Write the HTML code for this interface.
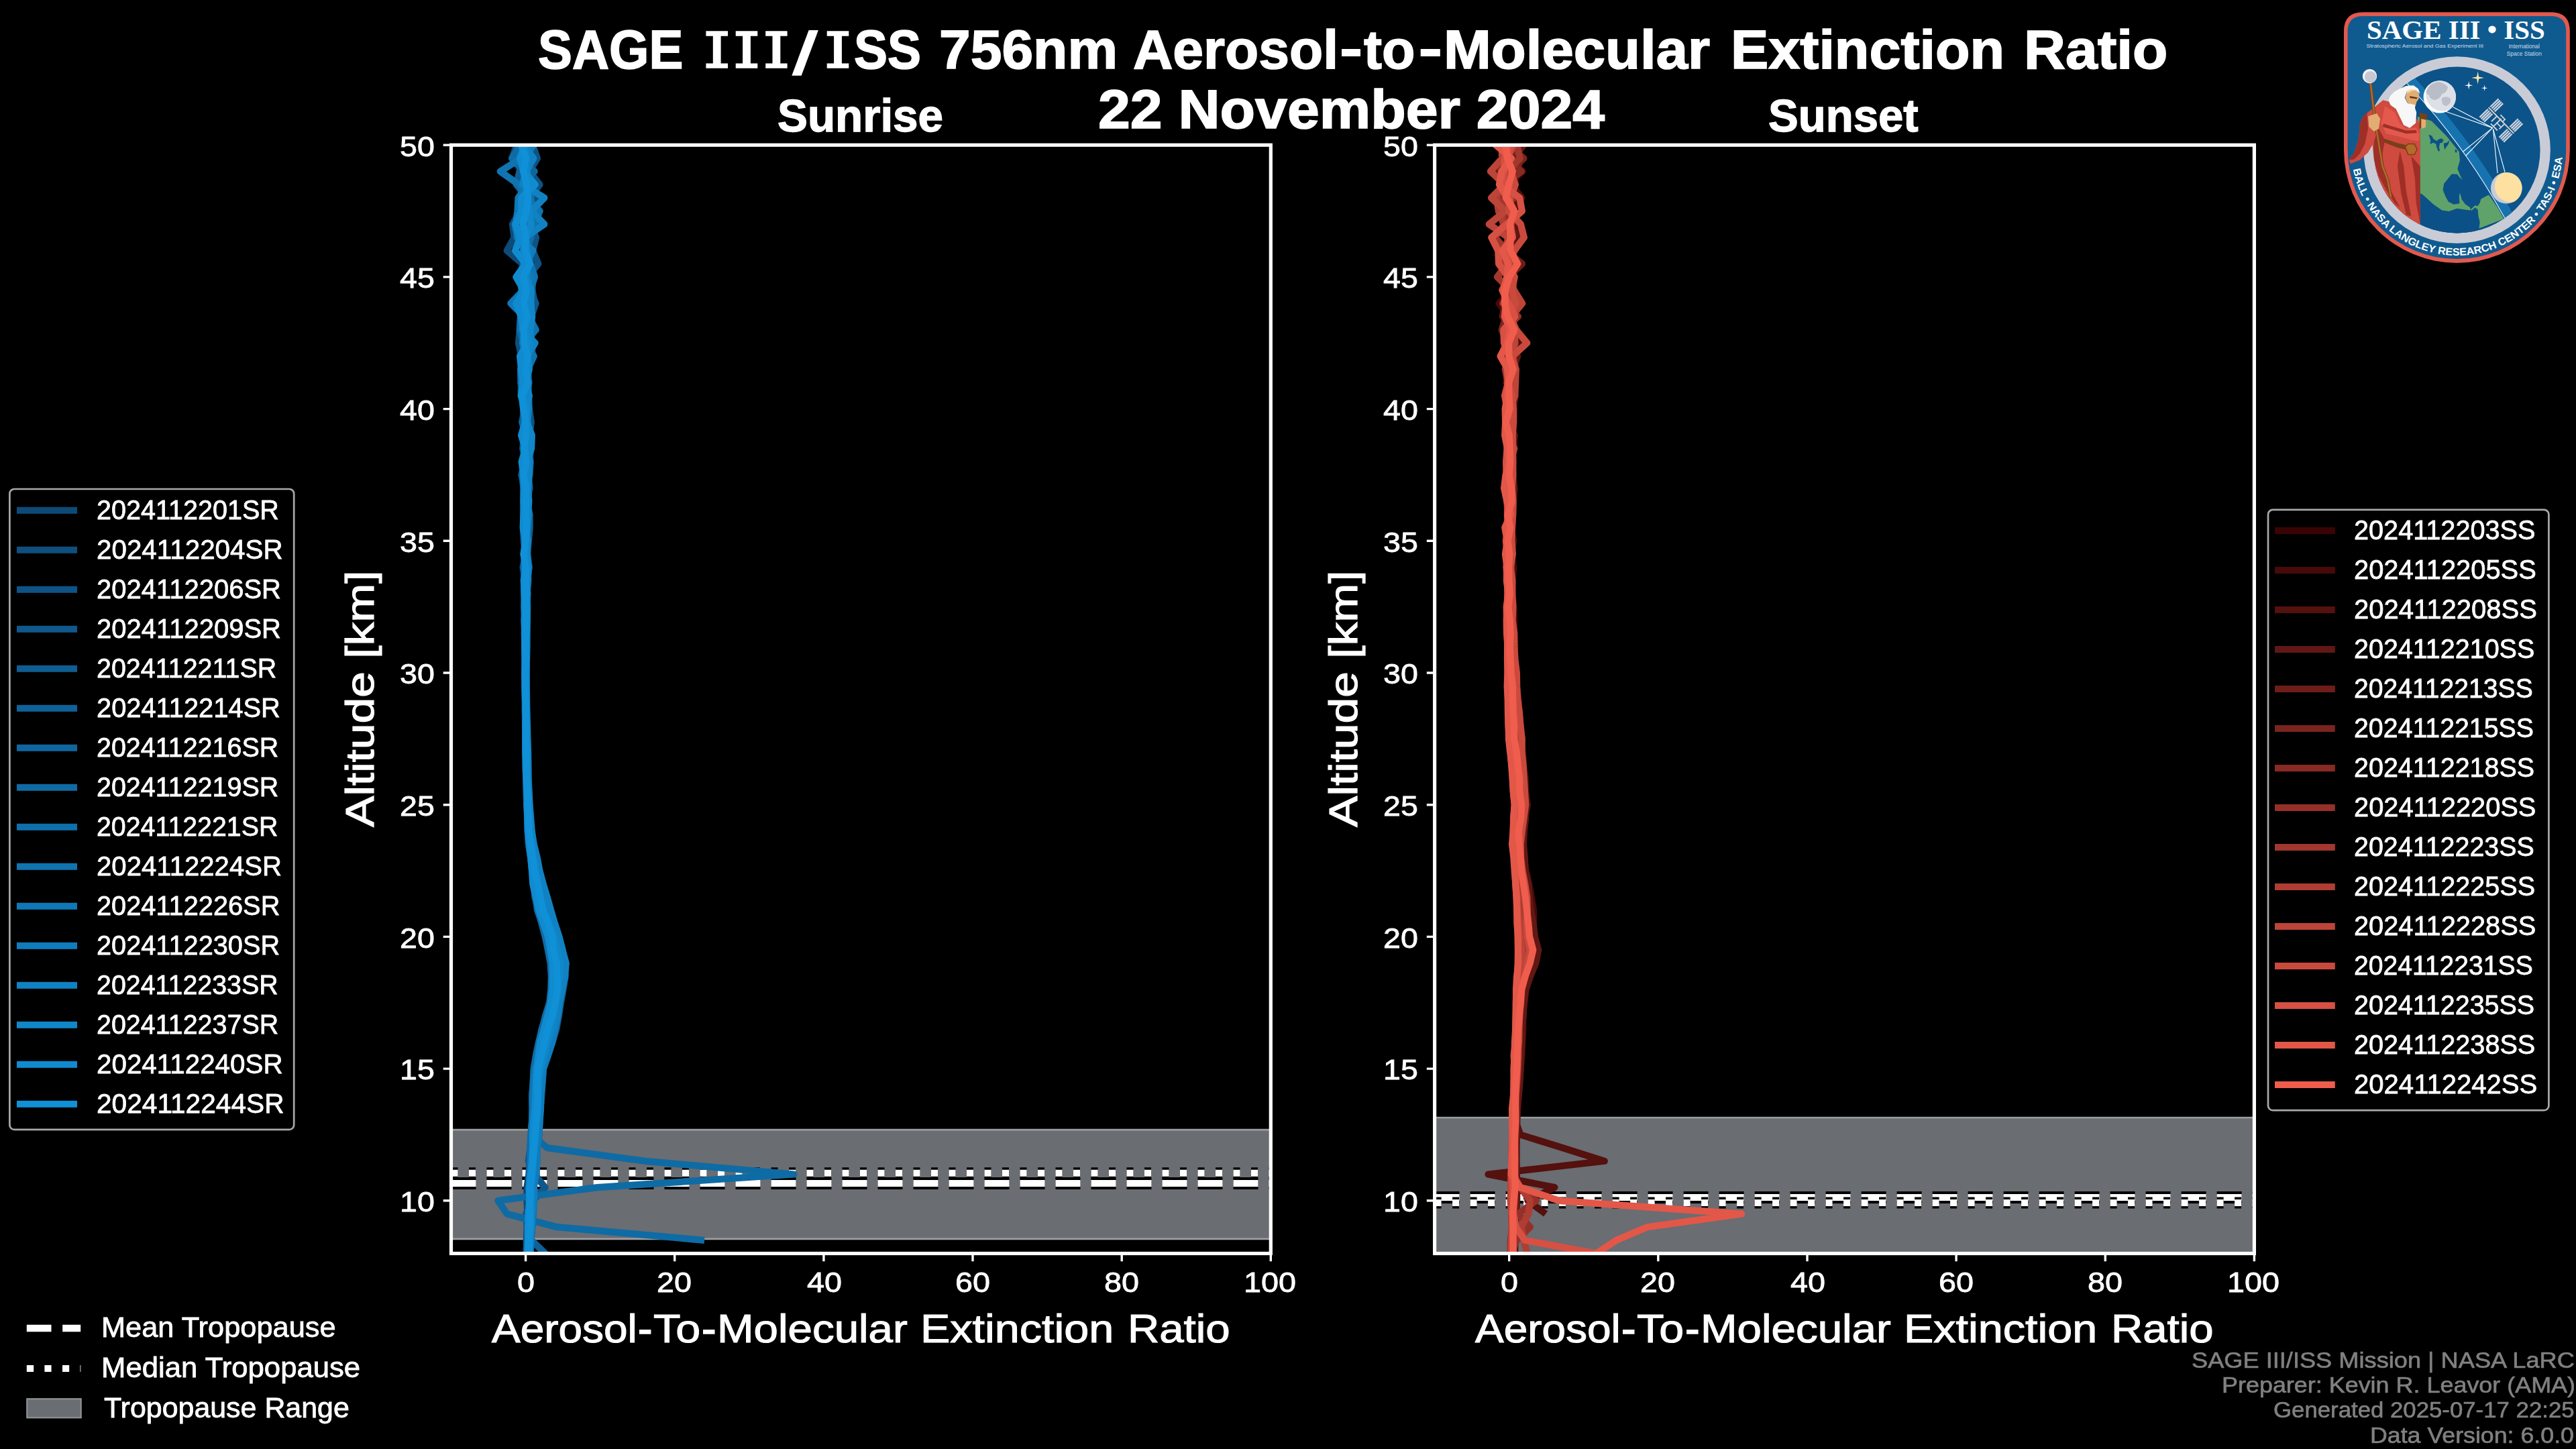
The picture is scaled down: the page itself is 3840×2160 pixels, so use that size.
<!DOCTYPE html>
<html><head><meta charset="utf-8"><title>SAGE III/ISS 756nm Aerosol-to-Molecular Extinction Ratio</title>
<style>
html,body{margin:0;padding:0;background:#000;}
#fig{position:relative;width:3840px;height:2160px;background:#000;overflow:hidden;font-family:"Liberation Sans",sans-serif;}
#fig svg{position:absolute;left:0;top:0;}
.t{position:absolute;white-space:pre;line-height:1;transform-origin:0 0;}
#tx{position:absolute;left:0;top:0;width:3840px;height:2160px;filter:grayscale(1);}
</style></head><body><div id="fig">
<svg width="3840" height="2160" viewBox="0 0 3840 2160">
<defs><clipPath id="c0"><rect x="672.5" y="216.2" width="1221.8" height="1652.3"/></clipPath><clipPath id="c1"><rect x="2138.6" y="216.2" width="1221.8000000000002" height="1652.3"/></clipPath></defs>
<g clip-path="url(#c0)">
<rect x="672.5" y="1684.2" width="1221.8" height="162.70000000000005" fill="#6a6d72"/>
<path d="M672.5,1684.2 H1894.3 M672.5,1846.9 H1894.3" stroke="#9c9ea1" stroke-width="2.7" fill="none"/>
<path d="M672.5,1764.0 H1899.3" stroke="#000" stroke-width="18" stroke-dasharray="37 16" fill="none"/>
<path d="M672.5,1764.0 H1899.3" stroke="#fff" stroke-width="10" stroke-dasharray="37 16" fill="none"/>
<path d="M672.5,1748.8 H1899.3" stroke="#000" stroke-width="17" stroke-dasharray="10 16.5" fill="none"/>
<path d="M672.5,1748.8 H1899.3" stroke="#fff" stroke-width="10" stroke-dasharray="10 16.5" fill="none"/>
<path d="M774.9,176.9 L773.7,196.5 L770.3,216.2 L763.4,235.9 L778.4,255.5 L774.7,275.2 L782.5,294.9 L775.7,314.6 L763.9,334.2 L766.6,353.9 L755.7,373.6 L778.7,393.2 L777.1,412.9 L777.9,432.6 L773.2,452.2 L779.8,471.9 L777.5,491.6 L779.0,511.3 L780.7,530.9 L781.8,550.6 L776.6,570.3 L776.8,589.9 L780.3,609.6 L779.6,629.3 L780.8,648.9 L784.8,668.6 L782.5,688.3 L780.7,708.0 L781.9,727.6 L782.9,747.3 L780.2,767.0 L781.4,786.6 L784.0,806.3 L783.0,826.0 L782.0,845.6 L781.6,865.3 L782.1,885.0 L781.2,904.7 L783.1,924.3 L782.9,944.0 L782.7,963.7 L782.0,983.3 L782.4,1003.0 L783.0,1022.7 L783.2,1042.3 L782.9,1062.0 L783.5,1081.7 L783.8,1101.4 L783.3,1121.0 L783.8,1140.7 L784.1,1160.4 L784.4,1180.0 L785.5,1199.7 L786.1,1219.4 L786.9,1239.1 L788.1,1258.7 L791.1,1278.4 L793.2,1298.1 L795.3,1317.7 L798.2,1337.4 L800.8,1357.1 L808.7,1376.7 L814.1,1396.4 L818.0,1416.1 L824.7,1435.8 L824.2,1455.4 L823.5,1475.1 L821.8,1494.8 L815.6,1514.4 L809.2,1534.1 L805.1,1553.8 L801.2,1573.4 L798.5,1593.1 L797.0,1612.8 L796.8,1632.5 L796.4,1652.1 L796.3,1671.8 L794.1,1691.5 L793.3,1711.1 L789.6,1730.8 L788.4,1750.5 L785.4,1770.1 L785.4,1789.8 L786.6,1809.5 L785.9,1829.2 L785.6,1848.8 L784.4,1868.5 L784.7,1888.2 L784.4,1907.8" stroke="#0e4a78" stroke-width="10.2" fill="none" stroke-linejoin="round" stroke-linecap="butt"/>
<path d="M777.6,176.9 L783.3,196.5 L779.5,216.2 L791.6,235.9 L780.4,255.5 L786.0,275.2 L797.8,294.9 L784.2,314.6 L783.8,334.2 L788.2,353.9 L790.1,373.6 L785.4,393.2 L784.4,412.9 L781.3,432.6 L779.7,452.2 L784.7,471.9 L774.9,491.6 L773.0,511.3 L777.4,530.9 L784.5,550.6 L784.0,570.3 L785.5,589.9 L783.4,609.6 L785.2,629.3 L783.6,648.9 L784.8,668.6 L782.6,688.3 L777.7,708.0 L780.6,727.6 L780.6,747.3 L781.2,767.0 L780.7,786.6 L784.6,806.3 L782.7,826.0 L783.8,845.6 L782.1,865.3 L784.3,885.0 L781.6,904.7 L783.3,924.3 L781.8,944.0 L783.1,963.7 L783.7,983.3 L782.3,1003.0 L782.6,1022.7 L783.2,1042.3 L783.1,1062.0 L783.0,1081.7 L784.1,1101.4 L784.1,1121.0 L785.2,1140.7 L785.4,1160.4 L785.3,1180.0 L785.8,1199.7 L787.1,1219.4 L786.7,1239.1 L788.9,1258.7 L791.2,1278.4 L793.7,1298.1 L796.1,1317.7 L797.2,1337.4 L802.7,1357.1 L810.0,1376.7 L818.5,1396.4 L821.6,1416.1 L824.8,1435.8 L825.1,1455.4 L824.5,1475.1 L823.6,1494.8 L818.4,1514.4 L814.7,1534.1 L812.8,1553.8 L807.2,1573.4 L802.3,1593.1 L800.9,1612.8 L799.6,1632.5 L799.0,1652.1 L798.7,1671.8 L798.6,1691.5 L797.2,1711.1 L796.1,1730.8 L793.9,1750.5 L790.7,1770.1 L791.4,1789.8 L792.2,1809.5 L789.9,1829.2 L788.6,1848.8 L787.6,1868.5 L787.1,1888.2 L786.3,1907.8" stroke="#0e4f7e" stroke-width="10.2" fill="none" stroke-linejoin="round" stroke-linecap="butt"/>
<path d="M785.8,176.9 L778.0,196.5 L793.9,216.2 L800.9,235.9 L789.2,255.5 L804.4,275.2 L789.6,294.9 L788.5,314.6 L789.8,334.2 L799.1,353.9 L794.2,373.6 L802.3,393.2 L786.4,412.9 L787.8,432.6 L798.7,452.2 L791.8,471.9 L791.9,491.6 L792.4,511.3 L794.0,530.9 L785.7,550.6 L786.6,570.3 L788.2,589.9 L788.9,609.6 L791.8,629.3 L789.2,648.9 L788.8,668.6 L790.7,688.3 L789.6,708.0 L785.2,727.6 L786.1,747.3 L786.7,767.0 L786.2,786.6 L784.9,806.3 L784.3,826.0 L786.1,845.6 L787.5,865.3 L785.0,885.0 L786.0,904.7 L786.1,924.3 L785.1,944.0 L784.9,963.7 L783.8,983.3 L784.3,1003.0 L783.7,1022.7 L783.6,1042.3 L784.6,1062.0 L785.3,1081.7 L785.1,1101.4 L784.6,1121.0 L785.5,1140.7 L786.5,1160.4 L786.3,1180.0 L787.1,1199.7 L788.5,1219.4 L790.3,1239.1 L793.2,1258.7 L797.2,1278.4 L800.8,1298.1 L805.8,1317.7 L811.4,1337.4 L816.2,1357.1 L824.1,1376.7 L827.8,1396.4 L834.0,1416.1 L839.6,1435.8 L839.7,1455.4 L838.6,1475.1 L833.0,1494.8 L828.1,1514.4 L823.2,1534.1 L817.7,1553.8 L813.2,1573.4 L805.4,1593.1 L803.5,1612.8 L801.1,1632.5 L802.7,1652.1 L802.1,1671.8 L801.2,1691.5 L798.1,1711.1 L798.4,1730.8 L797.0,1750.5 L792.8,1770.1 L793.1,1789.8 L794.5,1809.5 L793.1,1829.2 L791.5,1848.8 L789.8,1868.5 L789.4,1888.2 L787.9,1907.8" stroke="#0e5385" stroke-width="10.2" fill="none" stroke-linejoin="round" stroke-linecap="butt"/>
<path d="M775.5,176.9 L778.1,196.5 L786.5,216.2 L784.7,235.9 L779.5,255.5 L777.3,275.2 L780.9,294.9 L774.7,314.6 L796.9,334.2 L781.7,353.9 L787.6,373.6 L785.4,393.2 L783.6,412.9 L793.2,432.6 L797.3,452.2 L780.8,471.9 L782.1,491.6 L780.0,511.3 L783.9,530.9 L780.4,550.6 L781.7,570.3 L779.9,589.9 L784.8,609.6 L782.2,629.3 L781.6,648.9 L779.2,668.6 L783.8,688.3 L782.5,708.0 L781.7,727.6 L783.6,747.3 L780.6,767.0 L780.0,786.6 L780.8,806.3 L783.8,826.0 L779.6,845.6 L782.7,865.3 L784.0,885.0 L783.1,904.7 L782.2,924.3 L784.2,944.0 L783.2,963.7 L782.5,983.3 L783.8,1003.0 L782.9,1022.7 L782.7,1042.3 L783.1,1062.0 L784.1,1081.7 L783.5,1101.4 L784.5,1121.0 L783.2,1140.7 L784.3,1160.4 L785.2,1180.0 L784.9,1199.7 L786.6,1219.4 L786.6,1239.1 L787.9,1258.7 L791.2,1278.4 L793.4,1298.1 L797.3,1317.7 L800.3,1337.4 L804.3,1357.1 L809.9,1376.7 L814.5,1396.4 L821.5,1416.1 L823.8,1435.8 L825.4,1455.4 L825.1,1475.1 L821.5,1494.8 L815.6,1514.4 L810.5,1534.1 L804.2,1553.8 L799.8,1573.4 L797.6,1593.1 L795.2,1612.8 L793.0,1632.5 L793.4,1652.1 L793.4,1671.8 L791.9,1691.5 L790.5,1711.1 L787.8,1730.8 L796.9,1750.5 L812.5,1770.1 L794.7,1789.8 L784.2,1809.5 L785.7,1829.2 L784.7,1848.8 L785.2,1868.5 L786.3,1888.2 L785.8,1907.8" stroke="#0e588b" stroke-width="10.2" fill="none" stroke-linejoin="round" stroke-linecap="butt"/>
<path d="M774.4,176.9 L784.2,196.5 L792.9,216.2 L781.4,235.9 L790.3,255.5 L770.0,275.2 L784.7,294.9 L781.6,314.6 L802.2,334.2 L791.5,353.9 L786.1,373.6 L785.2,393.2 L793.6,412.9 L793.5,432.6 L788.8,452.2 L787.7,471.9 L792.9,491.6 L791.3,511.3 L791.3,530.9 L786.4,550.6 L788.5,570.3 L784.7,589.9 L788.9,609.6 L785.8,629.3 L789.1,648.9 L791.0,668.6 L789.3,688.3 L787.6,708.0 L789.6,727.6 L785.6,747.3 L789.6,767.0 L789.7,786.6 L787.8,806.3 L786.2,826.0 L788.8,845.6 L785.7,865.3 L785.1,885.0 L784.9,904.7 L785.9,924.3 L785.5,944.0 L785.2,963.7 L784.9,983.3 L784.6,1003.0 L784.9,1022.7 L784.8,1042.3 L785.6,1062.0 L785.4,1081.7 L786.0,1101.4 L786.6,1121.0 L786.9,1140.7 L787.5,1160.4 L788.0,1180.0 L788.7,1199.7 L789.6,1219.4 L790.8,1239.1 L793.6,1258.7 L798.0,1278.4 L801.6,1298.1 L806.4,1317.7 L812.7,1337.4 L817.3,1357.1 L821.6,1376.7 L828.5,1396.4 L835.2,1416.1 L841.5,1435.8 L842.7,1455.4 L839.5,1475.1 L835.9,1494.8 L832.9,1514.4 L829.3,1534.1 L823.4,1553.8 L817.0,1573.4 L810.1,1593.1 L808.8,1612.8 L807.2,1632.5 L805.6,1652.1 L804.5,1671.8 L803.6,1691.5 L800.4,1711.1 L800.6,1730.8 L798.2,1750.5 L793.7,1770.1 L794.1,1789.8 L794.4,1809.5 L792.7,1829.2 L790.0,1848.8 L789.7,1868.5 L789.1,1888.2 L787.8,1907.8" stroke="#0f5d91" stroke-width="10.2" fill="none" stroke-linejoin="round" stroke-linecap="butt"/>
<path d="M773.1,176.9 L785.7,196.5 L771.9,216.2 L783.9,235.9 L774.5,255.5 L769.8,275.2 L789.7,294.9 L778.7,314.6 L794.1,334.2 L783.7,353.9 L792.3,373.6 L783.1,393.2 L773.1,412.9 L786.7,432.6 L781.4,452.2 L788.5,471.9 L783.3,491.6 L793.5,511.3 L787.5,530.9 L782.2,550.6 L785.0,570.3 L780.0,589.9 L782.6,609.6 L778.1,629.3 L784.8,648.9 L783.3,668.6 L783.1,688.3 L777.5,708.0 L783.5,727.6 L783.3,747.3 L783.2,767.0 L785.1,786.6 L781.9,806.3 L781.9,826.0 L783.4,845.6 L780.6,865.3 L782.5,885.0 L781.1,904.7 L782.2,924.3 L782.9,944.0 L782.6,963.7 L783.4,983.3 L783.4,1003.0 L782.3,1022.7 L782.9,1042.3 L783.6,1062.0 L783.5,1081.7 L784.3,1101.4 L783.4,1121.0 L784.6,1140.7 L784.6,1160.4 L785.1,1180.0 L786.2,1199.7 L786.4,1219.4 L787.2,1239.1 L789.5,1258.7 L792.6,1278.4 L796.1,1298.1 L799.2,1317.7 L802.3,1337.4 L807.6,1357.1 L813.8,1376.7 L819.9,1396.4 L822.5,1416.1 L824.7,1435.8 L825.9,1455.4 L824.6,1475.1 L820.5,1494.8 L814.0,1514.4 L807.5,1534.1 L803.5,1553.8 L799.6,1573.4 L795.9,1593.1 L794.6,1612.8 L793.9,1632.5 L794.2,1652.1 L793.1,1671.8 L792.6,1691.5 L791.6,1711.1 L790.6,1730.8 L789.5,1750.5 L788.5,1770.1 L787.9,1789.8 L787.9,1809.5 L787.8,1829.2 L792.5,1848.8 L812.5,1868.5 L833.6,1888.2 L785.3,1907.8" stroke="#0f6197" stroke-width="10.2" fill="none" stroke-linejoin="round" stroke-linecap="butt"/>
<path d="M774.7,176.9 L774.7,196.5 L779.9,216.2 L763.3,235.9 L796.7,255.5 L775.1,275.2 L788.2,294.9 L780.2,314.6 L785.3,334.2 L783.6,353.9 L789.8,373.6 L780.8,393.2 L793.0,412.9 L785.8,432.6 L781.3,452.2 L780.4,471.9 L777.8,491.6 L780.9,511.3 L782.4,530.9 L786.2,550.6 L786.1,570.3 L781.2,589.9 L785.2,609.6 L787.2,629.3 L785.6,648.9 L787.8,668.6 L786.0,688.3 L782.9,708.0 L783.6,727.6 L784.0,747.3 L785.0,767.0 L784.7,786.6 L785.7,806.3 L785.5,826.0 L783.8,845.6 L783.3,865.3 L784.6,885.0 L785.1,904.7 L785.0,924.3 L784.5,944.0 L784.3,963.7 L783.4,983.3 L783.8,1003.0 L783.4,1022.7 L783.8,1042.3 L784.0,1062.0 L783.6,1081.7 L784.0,1101.4 L785.1,1121.0 L784.6,1140.7 L785.3,1160.4 L785.6,1180.0 L786.0,1199.7 L787.6,1219.4 L788.4,1239.1 L790.3,1258.7 L793.7,1278.4 L795.0,1298.1 L798.6,1317.7 L801.1,1337.4 L807.0,1357.1 L816.9,1376.7 L821.4,1396.4 L825.1,1416.1 L829.1,1435.8 L829.1,1455.4 L828.3,1475.1 L825.0,1494.8 L820.5,1514.4 L815.5,1534.1 L809.9,1553.8 L803.8,1573.4 L800.2,1593.1 L798.9,1612.8 L798.6,1632.5 L796.7,1652.1 L795.1,1671.8 L793.0,1691.5 L793.3,1711.1 L793.1,1730.8 L791.9,1750.5 L791.0,1770.1 L791.0,1789.8 L790.0,1809.5 L789.4,1829.2 L789.2,1848.8 L788.2,1868.5 L787.7,1888.2 L786.8,1907.8" stroke="#0f669e" stroke-width="10.2" fill="none" stroke-linejoin="round" stroke-linecap="butt"/>
<path d="M802.3,176.9 L784.8,196.5 L775.4,216.2 L763.3,235.9 L782.1,255.5 L782.3,275.2 L780.4,294.9 L780.1,314.6 L786.9,334.2 L770.5,353.9 L786.5,373.6 L785.7,393.2 L778.9,412.9 L779.0,432.6 L780.8,452.2 L775.9,471.9 L774.7,491.6 L780.7,511.3 L782.2,530.9 L776.0,550.6 L776.5,570.3 L782.2,589.9 L782.1,609.6 L781.6,629.3 L782.2,648.9 L781.9,668.6 L780.2,688.3 L780.5,708.0 L782.6,727.6 L782.5,747.3 L785.4,767.0 L782.0,786.6 L782.7,806.3 L781.9,826.0 L782.8,845.6 L782.9,865.3 L782.2,885.0 L782.8,904.7 L781.3,924.3 L782.2,944.0 L782.1,963.7 L782.9,983.3 L782.5,1003.0 L781.9,1022.7 L783.0,1042.3 L782.8,1062.0 L783.6,1081.7 L783.7,1101.4 L783.0,1121.0 L784.0,1140.7 L784.7,1160.4 L785.2,1180.0 L785.9,1199.7 L786.3,1219.4 L786.9,1239.1 L788.9,1258.7 L792.1,1278.4 L795.3,1298.1 L797.9,1317.7 L799.6,1337.4 L801.7,1357.1 L807.5,1376.7 L812.8,1396.4 L816.9,1416.1 L820.6,1435.8 L821.9,1455.4 L821.3,1475.1 L819.1,1494.8 L813.0,1514.4 L808.2,1534.1 L803.0,1553.8 L798.9,1573.4 L795.7,1593.1 L794.9,1612.8 L793.4,1632.5 L793.8,1652.1 L792.9,1671.8 L792.0,1691.5 L815.8,1711.1 L961.3,1730.8 L1183.4,1750.5 L890.2,1770.1 L742.5,1789.8 L755.8,1809.5 L830.2,1829.2 L1050.1,1848.8" stroke="#0f6ba4" stroke-width="10.2" fill="none" stroke-linejoin="round" stroke-linecap="butt"/>
<path d="M789.2,176.9 L781.1,196.5 L783.7,216.2 L787.2,235.9 L781.9,255.5 L784.3,275.2 L791.7,294.9 L792.3,314.6 L781.3,334.2 L791.2,353.9 L783.5,373.6 L787.6,393.2 L786.8,412.9 L783.0,432.6 L784.2,452.2 L779.6,471.9 L784.7,491.6 L782.6,511.3 L787.6,530.9 L784.0,550.6 L780.1,570.3 L787.2,589.9 L785.9,609.6 L786.5,629.3 L788.1,648.9 L783.3,668.6 L781.6,688.3 L787.1,708.0 L785.3,727.6 L780.6,747.3 L784.4,767.0 L784.0,786.6 L785.5,806.3 L785.2,826.0 L782.9,845.6 L783.9,865.3 L783.7,885.0 L784.4,904.7 L784.8,924.3 L784.8,944.0 L782.9,963.7 L783.7,983.3 L784.2,1003.0 L784.2,1022.7 L784.4,1042.3 L784.7,1062.0 L784.3,1081.7 L785.2,1101.4 L784.7,1121.0 L785.6,1140.7 L786.0,1160.4 L786.2,1180.0 L786.9,1199.7 L788.1,1219.4 L788.4,1239.1 L790.4,1258.7 L792.8,1278.4 L794.8,1298.1 L796.3,1317.7 L799.3,1337.4 L803.9,1357.1 L809.9,1376.7 L815.9,1396.4 L819.4,1416.1 L822.6,1435.8 L825.1,1455.4 L824.2,1475.1 L821.7,1494.8 L818.6,1514.4 L813.7,1534.1 L807.0,1553.8 L803.6,1573.4 L798.9,1593.1 L797.2,1612.8 L795.1,1632.5 L794.9,1652.1 L793.1,1671.8 L791.1,1691.5 L790.3,1711.1 L790.2,1730.8 L789.6,1750.5 L788.7,1770.1 L789.7,1789.8 L789.2,1809.5 L788.1,1829.2 L787.6,1848.8 L787.3,1868.5 L786.8,1888.2 L786.8,1907.8" stroke="#0f6faa" stroke-width="10.2" fill="none" stroke-linejoin="round" stroke-linecap="butt"/>
<path d="M798.1,176.9 L790.7,196.5 L791.8,216.2 L776.9,235.9 L745.8,255.5 L773.6,275.2 L785.0,294.9 L804.7,314.6 L796.3,334.2 L781.1,353.9 L786.5,373.6 L790.6,393.2 L797.0,412.9 L790.5,432.6 L787.7,452.2 L788.4,471.9 L798.7,491.6 L781.6,511.3 L795.8,530.9 L786.8,550.6 L784.4,570.3 L786.2,589.9 L783.4,609.6 L783.9,629.3 L788.0,648.9 L787.4,668.6 L785.2,688.3 L784.4,708.0 L787.0,727.6 L783.8,747.3 L784.0,767.0 L785.1,786.6 L785.1,806.3 L784.7,826.0 L785.8,845.6 L783.4,865.3 L784.5,885.0 L785.6,904.7 L784.9,924.3 L783.8,944.0 L783.9,963.7 L784.4,983.3 L784.7,1003.0 L784.1,1022.7 L784.3,1042.3 L783.8,1062.0 L784.8,1081.7 L785.0,1101.4 L785.3,1121.0 L785.8,1140.7 L786.8,1160.4 L787.7,1180.0 L787.8,1199.7 L790.5,1219.4 L791.2,1239.1 L793.6,1258.7 L797.0,1278.4 L802.4,1298.1 L806.2,1317.7 L810.2,1337.4 L814.7,1357.1 L822.0,1376.7 L828.4,1396.4 L834.2,1416.1 L837.5,1435.8 L837.3,1455.4 L835.7,1475.1 L831.2,1494.8 L825.8,1514.4 L821.5,1534.1 L815.0,1553.8 L809.2,1573.4 L803.4,1593.1 L801.6,1612.8 L802.1,1632.5 L802.1,1652.1 L803.1,1671.8 L802.6,1691.5 L799.1,1711.1 L799.3,1730.8 L798.8,1750.5 L795.1,1770.1 L796.3,1789.8 L794.9,1809.5 L793.3,1829.2 L791.0,1848.8 L790.0,1868.5 L789.3,1888.2 L787.9,1907.8" stroke="#0f74b0" stroke-width="10.2" fill="none" stroke-linejoin="round" stroke-linecap="butt"/>
<path d="M782.5,176.9 L793.0,196.5 L795.1,216.2 L781.9,235.9 L784.4,255.5 L786.5,275.2 L772.5,294.9 L771.5,314.6 L768.9,334.2 L775.1,353.9 L782.6,373.6 L780.4,393.2 L792.7,412.9 L780.2,432.6 L761.4,452.2 L781.4,471.9 L783.2,491.6 L778.9,511.3 L783.8,530.9 L786.3,550.6 L777.8,570.3 L784.1,589.9 L782.3,609.6 L781.8,629.3 L784.1,648.9 L784.7,668.6 L779.0,688.3 L782.1,708.0 L782.3,727.6 L782.7,747.3 L782.6,767.0 L782.5,786.6 L783.2,806.3 L781.8,826.0 L781.4,845.6 L784.4,865.3 L783.1,885.0 L783.4,904.7 L781.9,924.3 L783.1,944.0 L782.8,963.7 L783.3,983.3 L783.5,1003.0 L783.7,1022.7 L783.7,1042.3 L783.9,1062.0 L784.6,1081.7 L784.0,1101.4 L784.9,1121.0 L785.0,1140.7 L786.0,1160.4 L786.9,1180.0 L787.0,1199.7 L788.5,1219.4 L789.7,1239.1 L792.6,1258.7 L795.8,1278.4 L798.5,1298.1 L802.2,1317.7 L807.2,1337.4 L811.9,1357.1 L817.9,1376.7 L824.1,1396.4 L828.9,1416.1 L830.7,1435.8 L829.6,1455.4 L830.4,1475.1 L825.5,1494.8 L820.5,1514.4 L815.6,1534.1 L808.5,1553.8 L803.9,1573.4 L798.3,1593.1 L796.2,1612.8 L795.4,1632.5 L795.1,1652.1 L795.1,1671.8 L794.0,1691.5 L793.8,1711.1 L793.1,1730.8 L791.7,1750.5 L790.0,1770.1 L790.6,1789.8 L789.5,1809.5 L787.0,1829.2 L787.8,1848.8 L787.0,1868.5 L785.6,1888.2 L786.0,1907.8" stroke="#0f79b7" stroke-width="10.2" fill="none" stroke-linejoin="round" stroke-linecap="butt"/>
<path d="M780.1,176.9 L783.3,196.5 L777.4,216.2 L780.3,235.9 L786.3,255.5 L781.6,275.2 L786.9,294.9 L785.2,314.6 L767.5,334.2 L771.7,353.9 L794.3,373.6 L783.8,393.2 L788.1,412.9 L786.9,432.6 L789.9,452.2 L786.8,471.9 L788.9,491.6 L782.7,511.3 L785.7,530.9 L782.2,550.6 L787.7,570.3 L786.6,589.9 L788.2,609.6 L785.8,629.3 L787.0,648.9 L789.9,668.6 L784.7,688.3 L787.8,708.0 L785.1,727.6 L785.3,747.3 L788.3,767.0 L786.3,786.6 L785.3,806.3 L784.2,826.0 L784.9,845.6 L784.3,865.3 L786.5,885.0 L784.8,904.7 L783.9,924.3 L784.0,944.0 L784.3,963.7 L783.3,983.3 L783.5,1003.0 L783.4,1022.7 L783.2,1042.3 L785.1,1062.0 L784.8,1081.7 L785.7,1101.4 L785.5,1121.0 L785.8,1140.7 L786.2,1160.4 L787.1,1180.0 L787.5,1199.7 L788.2,1219.4 L790.2,1239.1 L793.3,1258.7 L797.6,1278.4 L801.0,1298.1 L805.9,1317.7 L812.1,1337.4 L818.7,1357.1 L826.5,1376.7 L833.0,1396.4 L838.6,1416.1 L840.8,1435.8 L841.8,1455.4 L837.9,1475.1 L834.0,1494.8 L831.6,1514.4 L827.4,1534.1 L822.9,1553.8 L816.6,1573.4 L809.8,1593.1 L808.1,1612.8 L806.5,1632.5 L806.0,1652.1 L804.6,1671.8 L803.2,1691.5 L800.4,1711.1 L800.7,1730.8 L798.9,1750.5 L795.9,1770.1 L796.4,1789.8 L793.2,1809.5 L791.8,1829.2 L791.6,1848.8 L790.5,1868.5 L788.2,1888.2 L787.4,1907.8" stroke="#0f7dbd" stroke-width="10.2" fill="none" stroke-linejoin="round" stroke-linecap="butt"/>
<path d="M765.1,176.9 L776.5,196.5 L779.8,216.2 L795.3,235.9 L784.4,255.5 L779.1,275.2 L811.3,294.9 L792.5,314.6 L811.3,334.2 L782.7,353.9 L779.8,373.6 L789.7,393.2 L775.7,412.9 L777.7,432.6 L787.7,452.2 L779.4,471.9 L778.5,491.6 L797.5,511.3 L785.9,530.9 L785.7,550.6 L782.9,570.3 L780.7,589.9 L784.4,609.6 L786.2,629.3 L789.7,648.9 L785.4,668.6 L790.0,688.3 L788.3,708.0 L787.2,727.6 L784.3,747.3 L788.1,767.0 L783.7,786.6 L787.0,806.3 L784.6,826.0 L787.7,845.6 L786.8,865.3 L785.7,885.0 L784.9,904.7 L784.9,924.3 L785.2,944.0 L785.4,963.7 L785.0,983.3 L784.4,1003.0 L784.8,1022.7 L785.1,1042.3 L785.0,1062.0 L786.0,1081.7 L786.4,1101.4 L787.1,1121.0 L787.4,1140.7 L787.5,1160.4 L788.6,1180.0 L789.6,1199.7 L791.1,1219.4 L792.8,1239.1 L795.8,1258.7 L800.7,1278.4 L804.4,1298.1 L809.7,1317.7 L815.7,1337.4 L821.2,1357.1 L827.0,1376.7 L833.5,1396.4 L838.4,1416.1 L843.8,1435.8 L842.0,1455.4 L837.2,1475.1 L833.6,1494.8 L830.1,1514.4 L825.1,1534.1 L816.6,1553.8 L811.7,1573.4 L806.6,1593.1 L804.2,1612.8 L801.3,1632.5 L800.4,1652.1 L798.5,1671.8 L798.4,1691.5 L796.2,1711.1 L794.0,1730.8 L792.1,1750.5 L790.6,1770.1 L790.1,1789.8 L789.5,1809.5 L787.7,1829.2 L787.7,1848.8 L786.1,1868.5 L786.1,1888.2 L785.8,1907.8" stroke="#1082c3" stroke-width="10.2" fill="none" stroke-linejoin="round" stroke-linecap="butt"/>
<path d="M811.1,176.9 L778.2,196.5 L783.9,216.2 L781.8,235.9 L784.9,255.5 L787.4,275.2 L787.2,294.9 L788.2,314.6 L791.8,334.2 L783.7,353.9 L785.5,373.6 L787.3,393.2 L783.6,412.9 L791.9,432.6 L791.3,452.2 L793.2,471.9 L790.6,491.6 L790.7,511.3 L786.2,530.9 L788.9,550.6 L783.9,570.3 L788.8,589.9 L785.2,609.6 L785.4,629.3 L792.8,648.9 L792.1,668.6 L784.7,688.3 L788.4,708.0 L786.7,727.6 L788.4,747.3 L786.7,767.0 L785.1,786.6 L783.8,806.3 L785.8,826.0 L787.5,845.6 L784.4,865.3 L785.2,885.0 L786.1,904.7 L785.5,924.3 L785.0,944.0 L783.6,963.7 L784.5,983.3 L784.0,1003.0 L783.7,1022.7 L784.8,1042.3 L784.1,1062.0 L784.1,1081.7 L784.1,1101.4 L785.5,1121.0 L785.0,1140.7 L785.5,1160.4 L786.7,1180.0 L786.9,1199.7 L788.0,1219.4 L788.7,1239.1 L792.3,1258.7 L795.6,1278.4 L798.7,1298.1 L802.9,1317.7 L803.7,1337.4 L809.2,1357.1 L818.6,1376.7 L827.4,1396.4 L830.7,1416.1 L834.9,1435.8 L835.0,1455.4 L832.0,1475.1 L828.8,1494.8 L825.1,1514.4 L820.9,1534.1 L815.4,1553.8 L810.7,1573.4 L805.5,1593.1 L802.9,1612.8 L801.9,1632.5 L800.4,1652.1 L799.2,1671.8 L797.6,1691.5 L796.1,1711.1 L794.3,1730.8 L793.0,1750.5 L792.2,1770.1 L792.3,1789.8 L792.2,1809.5 L792.1,1829.2 L789.9,1848.8 L788.8,1868.5 L788.1,1888.2 L787.1,1907.8" stroke="#1087c9" stroke-width="10.2" fill="none" stroke-linejoin="round" stroke-linecap="butt"/>
<path d="M769.2,176.9 L778.6,196.5 L782.7,216.2 L774.9,235.9 L780.7,255.5 L797.7,275.2 L777.1,294.9 L777.2,314.6 L768.6,334.2 L775.5,353.9 L768.1,373.6 L783.5,393.2 L769.4,412.9 L780.7,432.6 L769.6,452.2 L776.6,471.9 L780.2,491.6 L786.7,511.3 L775.1,530.9 L777.1,550.6 L779.4,570.3 L776.7,589.9 L785.5,609.6 L782.7,629.3 L777.1,648.9 L783.2,668.6 L777.7,688.3 L780.3,708.0 L780.7,727.6 L780.4,747.3 L780.5,767.0 L779.7,786.6 L782.9,806.3 L782.4,826.0 L783.0,845.6 L781.0,865.3 L781.3,885.0 L782.3,904.7 L782.3,924.3 L782.0,944.0 L782.2,963.7 L782.7,983.3 L782.3,1003.0 L783.0,1022.7 L783.2,1042.3 L783.9,1062.0 L783.3,1081.7 L783.4,1101.4 L783.6,1121.0 L784.2,1140.7 L784.9,1160.4 L785.6,1180.0 L785.8,1199.7 L786.4,1219.4 L787.3,1239.1 L789.1,1258.7 L791.3,1278.4 L793.0,1298.1 L794.3,1317.7 L798.8,1337.4 L803.5,1357.1 L810.3,1376.7 L817.1,1396.4 L820.5,1416.1 L823.8,1435.8 L823.8,1455.4 L823.5,1475.1 L821.1,1494.8 L816.1,1514.4 L811.1,1534.1 L805.3,1553.8 L802.6,1573.4 L800.1,1593.1 L799.3,1612.8 L798.5,1632.5 L797.6,1652.1 L795.4,1671.8 L794.1,1691.5 L794.3,1711.1 L793.0,1730.8 L791.0,1750.5 L788.8,1770.1 L789.6,1789.8 L787.6,1809.5 L787.0,1829.2 L787.1,1848.8 L786.3,1868.5 L786.2,1888.2 L784.8,1907.8" stroke="#108bd0" stroke-width="10.2" fill="none" stroke-linejoin="round" stroke-linecap="butt"/>
<path d="M788.3,176.9 L773.4,196.5 L777.6,216.2 L784.4,235.9 L780.2,255.5 L784.8,275.2 L787.2,294.9 L784.6,314.6 L779.6,334.2 L784.1,353.9 L782.6,373.6 L790.0,393.2 L780.1,412.9 L785.3,432.6 L780.5,452.2 L785.6,471.9 L780.9,491.6 L781.2,511.3 L786.3,530.9 L783.8,550.6 L786.5,570.3 L778.4,589.9 L780.2,609.6 L783.8,629.3 L784.2,648.9 L781.1,668.6 L784.8,688.3 L780.5,708.0 L784.5,727.6 L784.2,747.3 L783.8,767.0 L785.0,786.6 L783.6,806.3 L780.4,826.0 L784.2,845.6 L783.9,865.3 L784.4,885.0 L783.5,904.7 L784.5,924.3 L783.6,944.0 L783.7,963.7 L783.8,983.3 L783.0,1003.0 L783.2,1022.7 L783.5,1042.3 L784.0,1062.0 L784.1,1081.7 L784.2,1101.4 L784.6,1121.0 L784.9,1140.7 L784.7,1160.4 L786.2,1180.0 L787.0,1199.7 L788.3,1219.4 L788.5,1239.1 L791.7,1258.7 L794.2,1278.4 L796.5,1298.1 L801.5,1317.7 L805.5,1337.4 L809.8,1357.1 L817.4,1376.7 L823.5,1396.4 L824.8,1416.1 L829.8,1435.8 L830.7,1455.4 L831.1,1475.1 L827.7,1494.8 L823.2,1514.4 L816.5,1534.1 L811.6,1553.8 L807.0,1573.4 L802.5,1593.1 L800.8,1612.8 L802.0,1632.5 L801.5,1652.1 L799.6,1671.8 L798.0,1691.5 L796.1,1711.1 L794.5,1730.8 L793.2,1750.5 L790.5,1770.1 L789.6,1789.8 L790.2,1809.5 L790.0,1829.2 L788.6,1848.8 L787.9,1868.5 L787.6,1888.2 L786.4,1907.8" stroke="#1090d6" stroke-width="10.2" fill="none" stroke-linejoin="round" stroke-linecap="butt"/>
</g>
<rect x="672.5" y="216.2" width="1221.8" height="1652.3" fill="none" stroke="#fff" stroke-width="5.2"/>
<path d="M660.7,1789.8 H672.5 M660.7,1593.1 H672.5 M660.7,1396.4 H672.5 M660.7,1199.7 H672.5 M660.7,1003.0 H672.5 M660.7,806.3 H672.5 M660.7,609.6 H672.5 M660.7,412.9 H672.5 M660.7,216.2 H672.5 M783.6,1868.5 V1880.3 M1005.7,1868.5 V1880.3 M1227.9,1868.5 V1880.3 M1450.0,1868.5 V1880.3 M1672.2,1868.5 V1880.3 M1894.3,1868.5 V1880.3" stroke="#fff" stroke-width="3.4" fill="none"/>
<g clip-path="url(#c1)">
<rect x="2138.6" y="1666.0" width="1221.8000000000002" height="234.0" fill="#6a6d72"/>
<path d="M2138.6,1666.0 H3360.4 M2138.6,1900 H3360.4" stroke="#9c9ea1" stroke-width="2.7" fill="none"/>
<path d="M2138.6,1785.1 H3365.4" stroke="#000" stroke-width="18" stroke-dasharray="37 16" fill="none"/>
<path d="M2138.6,1785.1 H3365.4" stroke="#fff" stroke-width="10" stroke-dasharray="37 16" fill="none"/>
<path d="M2138.6,1793.1 H3365.4" stroke="#000" stroke-width="17" stroke-dasharray="10 16.5" fill="none"/>
<path d="M2138.6,1793.1 H3365.4" stroke="#fff" stroke-width="10" stroke-dasharray="10 16.5" fill="none"/>
<path d="M2251.2,176.9 L2281.9,196.5 L2258.5,216.2 L2252.3,235.9 L2270.0,255.5 L2250.4,275.2 L2245.2,294.9 L2248.1,314.6 L2245.0,334.2 L2246.6,353.9 L2258.7,373.6 L2248.7,393.2 L2254.4,412.9 L2254.4,432.6 L2255.6,452.2 L2250.3,471.9 L2254.5,491.6 L2258.8,511.3 L2260.4,530.9 L2252.7,550.6 L2244.6,570.3 L2254.4,589.9 L2254.8,609.6 L2254.5,629.3 L2254.9,648.9 L2250.5,668.6 L2255.2,688.3 L2251.0,708.0 L2255.3,727.6 L2245.9,747.3 L2254.2,767.0 L2250.8,786.6 L2250.4,806.3 L2254.3,826.0 L2250.9,845.6 L2253.7,865.3 L2252.4,885.0 L2251.0,904.7 L2253.7,924.3 L2253.0,944.0 L2254.9,963.7 L2255.0,983.3 L2255.2,1003.0 L2257.1,1022.7 L2258.8,1042.3 L2259.4,1062.0 L2262.3,1081.7 L2263.3,1101.4 L2263.6,1121.0 L2265.0,1140.7 L2266.1,1160.4 L2268.2,1180.0 L2269.9,1199.7 L2268.4,1219.4 L2265.7,1239.1 L2263.1,1258.7 L2266.2,1278.4 L2266.7,1298.1 L2268.6,1317.7 L2272.4,1337.4 L2274.2,1357.1 L2274.2,1376.7 L2276.7,1396.4 L2278.8,1416.1 L2275.4,1435.8 L2272.5,1455.4 L2268.9,1475.1 L2269.1,1494.8 L2266.9,1514.4 L2266.0,1534.1 L2264.9,1553.8 L2265.3,1573.4 L2264.1,1593.1 L2263.7,1612.8 L2263.1,1632.5 L2260.2,1652.1 L2260.4,1671.8 L2258.8,1691.5 L2259.2,1711.1 L2258.7,1730.8 L2257.6,1750.5 L2257.7,1770.1 L2259.0,1789.8 L2259.5,1809.5 L2258.2,1829.2 L2257.1,1848.8 L2258.3,1868.5 L2258.7,1888.2 L2258.6,1907.8" stroke="#3a0404" stroke-width="10.2" fill="none" stroke-linejoin="round" stroke-linecap="butt"/>
<path d="M2249.4,176.9 L2260.9,196.5 L2257.1,216.2 L2248.8,235.9 L2262.3,255.5 L2257.1,275.2 L2254.4,294.9 L2254.7,314.6 L2252.7,334.2 L2253.5,353.9 L2244.7,373.6 L2257.1,393.2 L2248.3,412.9 L2253.3,432.6 L2234.6,452.2 L2249.0,471.9 L2261.1,491.6 L2254.7,511.3 L2253.0,530.9 L2256.6,550.6 L2259.4,570.3 L2254.1,589.9 L2255.3,609.6 L2251.9,629.3 L2255.7,648.9 L2257.2,668.6 L2251.7,688.3 L2256.3,708.0 L2254.7,727.6 L2249.6,747.3 L2250.6,767.0 L2252.9,786.6 L2251.2,806.3 L2252.1,826.0 L2256.4,845.6 L2254.6,865.3 L2254.1,885.0 L2256.3,904.7 L2257.0,924.3 L2257.5,944.0 L2258.4,963.7 L2257.3,983.3 L2259.1,1003.0 L2260.6,1022.7 L2263.7,1042.3 L2264.6,1062.0 L2266.5,1081.7 L2268.0,1101.4 L2270.0,1121.0 L2271.4,1140.7 L2273.9,1160.4 L2274.0,1180.0 L2275.9,1199.7 L2273.4,1219.4 L2271.5,1239.1 L2270.7,1258.7 L2271.6,1278.4 L2275.0,1298.1 L2279.2,1317.7 L2282.8,1337.4 L2286.2,1357.1 L2286.0,1376.7 L2287.1,1396.4 L2292.0,1416.1 L2289.1,1435.8 L2281.0,1455.4 L2274.0,1475.1 L2272.6,1494.8 L2269.8,1514.4 L2270.7,1534.1 L2269.0,1553.8 L2268.4,1573.4 L2266.7,1593.1 L2265.0,1612.8 L2263.3,1632.5 L2262.4,1652.1 L2260.7,1671.8 L2261.1,1691.5 L2259.7,1711.1 L2260.2,1730.8 L2260.9,1750.5 L2260.9,1770.1 L2261.1,1789.8 L2259.8,1809.5 L2258.0,1829.2 L2258.6,1848.8 L2257.9,1868.5 L2258.0,1888.2 L2257.1,1907.8" stroke="#470a09" stroke-width="10.2" fill="none" stroke-linejoin="round" stroke-linecap="butt"/>
<path d="M2250.2,176.9 L2254.5,196.5 L2255.0,216.2 L2256.2,235.9 L2251.1,255.5 L2252.9,275.2 L2268.3,294.9 L2253.3,314.6 L2258.7,334.2 L2255.8,353.9 L2254.4,373.6 L2260.2,393.2 L2246.9,412.9 L2254.3,432.6 L2253.0,452.2 L2252.7,471.9 L2259.1,491.6 L2265.0,511.3 L2254.9,530.9 L2252.6,550.6 L2254.4,570.3 L2251.5,589.9 L2257.1,609.6 L2256.3,629.3 L2252.7,648.9 L2250.7,668.6 L2255.4,688.3 L2251.4,708.0 L2250.2,727.6 L2252.1,747.3 L2253.2,767.0 L2251.9,786.6 L2256.3,806.3 L2252.5,826.0 L2253.6,845.6 L2254.6,865.3 L2253.6,885.0 L2255.8,904.7 L2255.2,924.3 L2255.1,944.0 L2255.2,963.7 L2257.9,983.3 L2257.8,1003.0 L2259.3,1022.7 L2263.3,1042.3 L2264.2,1062.0 L2266.3,1081.7 L2267.4,1101.4 L2269.6,1121.0 L2270.5,1140.7 L2272.9,1160.4 L2274.0,1180.0 L2276.9,1199.7 L2273.3,1219.4 L2271.5,1239.1 L2270.0,1258.7 L2272.3,1278.4 L2273.6,1298.1 L2275.7,1317.7 L2276.9,1337.4 L2279.2,1357.1 L2279.8,1376.7 L2281.1,1396.4 L2284.0,1416.1 L2283.0,1435.8 L2276.6,1455.4 L2271.4,1475.1 L2269.4,1494.8 L2267.5,1514.4 L2266.5,1534.1 L2266.0,1553.8 L2264.8,1573.4 L2263.4,1593.1 L2262.3,1612.8 L2261.5,1632.5 L2259.9,1652.1 L2259.3,1671.8 L2266.3,1691.5 L2329.6,1711.1 L2391.8,1730.8 L2218.6,1750.5 L2317.4,1770.1 L2277.4,1789.8 L2304.1,1809.5" stroke="#54110e" stroke-width="10.2" fill="none" stroke-linejoin="round" stroke-linecap="butt"/>
<path d="M2251.3,176.9 L2255.2,196.5 L2271.3,216.2 L2255.7,235.9 L2230.4,255.5 L2257.8,275.2 L2245.7,294.9 L2249.3,314.6 L2249.5,334.2 L2268.6,353.9 L2251.8,373.6 L2252.6,393.2 L2255.3,412.9 L2256.6,432.6 L2243.4,452.2 L2239.7,471.9 L2257.3,491.6 L2254.2,511.3 L2262.2,530.9 L2255.7,550.6 L2256.2,570.3 L2258.7,589.9 L2255.6,609.6 L2247.4,629.3 L2257.6,648.9 L2255.4,668.6 L2251.9,688.3 L2255.1,708.0 L2257.3,727.6 L2256.0,747.3 L2254.5,767.0 L2254.1,786.6 L2252.2,806.3 L2252.2,826.0 L2251.3,845.6 L2253.7,865.3 L2254.7,885.0 L2255.7,904.7 L2253.7,924.3 L2251.6,944.0 L2254.2,963.7 L2257.1,983.3 L2256.7,1003.0 L2258.6,1022.7 L2258.9,1042.3 L2259.9,1062.0 L2264.2,1081.7 L2266.3,1101.4 L2266.8,1121.0 L2266.5,1140.7 L2270.2,1160.4 L2270.8,1180.0 L2273.2,1199.7 L2274.1,1219.4 L2271.9,1239.1 L2271.0,1258.7 L2272.8,1278.4 L2273.4,1298.1 L2278.1,1317.7 L2279.8,1337.4 L2281.8,1357.1 L2285.7,1376.7 L2287.9,1396.4 L2293.3,1416.1 L2289.3,1435.8 L2281.1,1455.4 L2274.5,1475.1 L2271.5,1494.8 L2270.7,1514.4 L2268.6,1534.1 L2268.7,1553.8 L2267.4,1573.4 L2266.6,1593.1 L2265.6,1612.8 L2263.9,1632.5 L2262.0,1652.1 L2261.3,1671.8 L2261.0,1691.5 L2260.7,1711.1 L2260.6,1730.8 L2260.4,1750.5 L2261.2,1770.1 L2261.0,1789.8 L2259.6,1809.5 L2259.2,1829.2 L2257.5,1848.8 L2257.0,1868.5 L2256.2,1888.2 L2256.4,1907.8" stroke="#611714" stroke-width="10.2" fill="none" stroke-linejoin="round" stroke-linecap="butt"/>
<path d="M2246.9,176.9 L2247.0,196.5 L2257.6,216.2 L2266.8,235.9 L2261.2,255.5 L2249.3,275.2 L2239.0,294.9 L2255.8,314.6 L2247.5,334.2 L2251.8,353.9 L2245.3,373.6 L2269.0,393.2 L2249.0,412.9 L2254.7,432.6 L2249.6,452.2 L2251.9,471.9 L2254.7,491.6 L2259.0,511.3 L2257.9,530.9 L2257.2,550.6 L2255.2,570.3 L2254.8,589.9 L2254.7,609.6 L2256.1,629.3 L2251.1,648.9 L2257.4,668.6 L2250.9,688.3 L2254.7,708.0 L2251.2,727.6 L2250.6,747.3 L2249.6,767.0 L2249.0,786.6 L2247.4,806.3 L2247.8,826.0 L2250.6,845.6 L2250.5,865.3 L2251.5,885.0 L2252.6,904.7 L2250.4,924.3 L2249.1,944.0 L2251.1,963.7 L2252.1,983.3 L2253.6,1003.0 L2254.0,1022.7 L2255.4,1042.3 L2255.6,1062.0 L2254.1,1081.7 L2255.3,1101.4 L2258.8,1121.0 L2258.1,1140.7 L2258.6,1160.4 L2262.5,1180.0 L2265.5,1199.7 L2263.3,1219.4 L2260.7,1239.1 L2259.2,1258.7 L2262.8,1278.4 L2264.3,1298.1 L2267.6,1317.7 L2270.7,1337.4 L2273.5,1357.1 L2272.4,1376.7 L2274.1,1396.4 L2278.2,1416.1 L2277.9,1435.8 L2272.5,1455.4 L2269.6,1475.1 L2267.6,1494.8 L2264.6,1514.4 L2264.5,1534.1 L2264.4,1553.8 L2262.4,1573.4 L2261.5,1593.1 L2260.9,1612.8 L2259.0,1632.5 L2257.6,1652.1 L2257.3,1671.8 L2256.6,1691.5 L2257.6,1711.1 L2256.8,1730.8 L2257.1,1750.5 L2257.1,1770.1 L2257.9,1789.8 L2257.7,1809.5 L2257.5,1829.2 L2257.8,1848.8 L2256.2,1868.5 L2256.2,1888.2 L2256.3,1907.8" stroke="#6e1d19" stroke-width="10.2" fill="none" stroke-linejoin="round" stroke-linecap="butt"/>
<path d="M2254.9,176.9 L2245.4,196.5 L2246.8,216.2 L2271.5,235.9 L2250.1,255.5 L2251.7,275.2 L2251.8,294.9 L2250.9,314.6 L2240.8,334.2 L2246.6,353.9 L2255.0,373.6 L2253.9,393.2 L2248.2,412.9 L2239.8,432.6 L2248.5,452.2 L2245.0,471.9 L2238.6,491.6 L2246.7,511.3 L2245.3,530.9 L2247.3,550.6 L2252.9,570.3 L2250.4,589.9 L2248.7,609.6 L2252.7,629.3 L2251.1,648.9 L2248.2,668.6 L2245.2,688.3 L2248.8,708.0 L2250.0,727.6 L2247.4,747.3 L2252.1,767.0 L2247.6,786.6 L2246.0,806.3 L2246.1,826.0 L2252.4,845.6 L2248.6,865.3 L2251.7,885.0 L2248.9,904.7 L2251.8,924.3 L2252.3,944.0 L2249.8,963.7 L2250.8,983.3 L2252.0,1003.0 L2252.0,1022.7 L2253.3,1042.3 L2253.0,1062.0 L2253.2,1081.7 L2251.9,1101.4 L2254.1,1121.0 L2253.7,1140.7 L2255.6,1160.4 L2258.6,1180.0 L2260.1,1199.7 L2257.3,1219.4 L2256.9,1239.1 L2256.2,1258.7 L2258.0,1278.4 L2261.3,1298.1 L2262.1,1317.7 L2264.2,1337.4 L2266.2,1357.1 L2270.4,1376.7 L2270.7,1396.4 L2275.8,1416.1 L2275.0,1435.8 L2270.9,1455.4 L2267.3,1475.1 L2264.4,1494.8 L2263.3,1514.4 L2263.3,1534.1 L2263.0,1553.8 L2261.6,1573.4 L2261.0,1593.1 L2260.0,1612.8 L2258.9,1632.5 L2257.6,1652.1 L2256.7,1671.8 L2256.4,1691.5 L2256.1,1711.1 L2257.0,1730.8 L2257.2,1750.5 L2257.4,1770.1 L2258.0,1789.8 L2256.7,1809.5 L2256.9,1829.2 L2255.9,1848.8 L2255.8,1868.5 L2256.1,1888.2 L2256.6,1907.8" stroke="#7b241e" stroke-width="10.2" fill="none" stroke-linejoin="round" stroke-linecap="butt"/>
<path d="M2234.1,176.9 L2241.4,196.5 L2247.8,216.2 L2241.6,235.9 L2268.2,255.5 L2241.2,275.2 L2230.4,294.9 L2242.5,314.6 L2250.8,334.2 L2253.0,353.9 L2249.2,373.6 L2244.6,393.2 L2246.6,412.9 L2251.6,432.6 L2250.6,452.2 L2251.2,471.9 L2245.1,491.6 L2248.6,511.3 L2246.5,530.9 L2246.8,550.6 L2247.2,570.3 L2254.3,589.9 L2253.3,609.6 L2249.2,629.3 L2254.4,648.9 L2247.8,668.6 L2250.9,688.3 L2247.5,708.0 L2250.9,727.6 L2246.9,747.3 L2247.2,767.0 L2249.2,786.6 L2250.6,806.3 L2253.1,826.0 L2250.3,845.6 L2249.5,865.3 L2252.8,885.0 L2252.8,904.7 L2250.8,924.3 L2252.5,944.0 L2254.2,963.7 L2256.5,983.3 L2257.5,1003.0 L2259.1,1022.7 L2261.0,1042.3 L2262.8,1062.0 L2262.9,1081.7 L2265.7,1101.4 L2266.4,1121.0 L2266.7,1140.7 L2269.2,1160.4 L2270.1,1180.0 L2269.1,1199.7 L2266.5,1219.4 L2264.2,1239.1 L2262.5,1258.7 L2265.4,1278.4 L2268.0,1298.1 L2271.0,1317.7 L2274.5,1337.4 L2275.0,1357.1 L2276.7,1376.7 L2278.0,1396.4 L2280.1,1416.1 L2274.8,1435.8 L2270.8,1455.4 L2265.2,1475.1 L2265.3,1494.8 L2264.2,1514.4 L2262.5,1534.1 L2260.9,1553.8 L2260.9,1573.4 L2258.2,1593.1 L2259.3,1612.8 L2257.3,1632.5 L2256.3,1652.1 L2256.3,1671.8 L2255.4,1691.5 L2255.3,1711.1 L2254.3,1730.8 L2254.1,1750.5 L2253.4,1770.1 L2252.8,1789.8 L2253.1,1809.5 L2254.0,1829.2 L2252.0,1848.8 L2251.4,1868.5 L2251.6,1888.2 L2250.0,1907.8" stroke="#882a23" stroke-width="10.2" fill="none" stroke-linejoin="round" stroke-linecap="butt"/>
<path d="M2237.4,176.9 L2255.6,196.5 L2261.5,216.2 L2240.8,235.9 L2237.3,255.5 L2244.9,275.2 L2257.0,294.9 L2236.3,314.6 L2253.2,334.2 L2249.9,353.9 L2240.8,373.6 L2238.9,393.2 L2255.8,412.9 L2251.1,432.6 L2240.3,452.2 L2262.9,471.9 L2242.5,491.6 L2243.3,511.3 L2250.2,530.9 L2243.8,550.6 L2250.0,570.3 L2249.0,589.9 L2248.9,609.6 L2250.0,629.3 L2250.8,648.9 L2246.7,668.6 L2249.6,688.3 L2249.6,708.0 L2246.0,727.6 L2246.1,747.3 L2248.3,767.0 L2249.1,786.6 L2248.1,806.3 L2250.3,826.0 L2249.5,845.6 L2250.5,865.3 L2251.0,885.0 L2250.5,904.7 L2250.9,924.3 L2252.0,944.0 L2250.8,963.7 L2252.4,983.3 L2253.6,1003.0 L2254.5,1022.7 L2254.2,1042.3 L2256.0,1062.0 L2258.8,1081.7 L2259.6,1101.4 L2261.6,1121.0 L2262.4,1140.7 L2261.7,1160.4 L2264.0,1180.0 L2265.8,1199.7 L2264.7,1219.4 L2264.1,1239.1 L2262.2,1258.7 L2262.8,1278.4 L2264.1,1298.1 L2269.3,1317.7 L2271.4,1337.4 L2274.4,1357.1 L2276.8,1376.7 L2277.5,1396.4 L2278.8,1416.1 L2276.7,1435.8 L2271.6,1455.4 L2266.4,1475.1 L2264.7,1494.8 L2263.3,1514.4 L2263.0,1534.1 L2263.1,1553.8 L2261.1,1573.4 L2260.3,1593.1 L2257.6,1612.8 L2257.8,1632.5 L2256.8,1652.1 L2256.7,1671.8 L2254.9,1691.5 L2255.5,1711.1 L2253.7,1730.8 L2254.0,1750.5 L2266.3,1770.1 L2289.7,1789.8 L2263.0,1809.5 L2280.8,1829.2 L2260.8,1848.8 L2252.9,1868.5 L2252.3,1888.2 L2252.1,1907.8" stroke="#953028" stroke-width="10.2" fill="none" stroke-linejoin="round" stroke-linecap="butt"/>
<path d="M2250.3,176.9 L2246.8,196.5 L2261.0,216.2 L2265.8,235.9 L2247.0,255.5 L2243.6,275.2 L2242.7,294.9 L2237.3,314.6 L2242.4,334.2 L2228.5,353.9 L2246.1,373.6 L2246.7,393.2 L2232.0,412.9 L2251.9,432.6 L2251.9,452.2 L2248.5,471.9 L2249.5,491.6 L2246.3,511.3 L2252.1,530.9 L2243.9,550.6 L2247.6,570.3 L2245.9,589.9 L2247.2,609.6 L2246.5,629.3 L2248.4,648.9 L2252.2,668.6 L2248.0,688.3 L2247.5,708.0 L2247.4,727.6 L2250.4,747.3 L2248.8,767.0 L2247.2,786.6 L2252.4,806.3 L2250.0,826.0 L2250.7,845.6 L2249.0,865.3 L2250.3,885.0 L2250.1,904.7 L2248.7,924.3 L2251.6,944.0 L2250.5,963.7 L2251.4,983.3 L2251.3,1003.0 L2251.6,1022.7 L2251.4,1042.3 L2252.3,1062.0 L2252.1,1081.7 L2253.6,1101.4 L2253.7,1121.0 L2253.5,1140.7 L2257.2,1160.4 L2259.3,1180.0 L2260.4,1199.7 L2259.7,1219.4 L2259.1,1239.1 L2257.7,1258.7 L2261.3,1278.4 L2264.6,1298.1 L2266.6,1317.7 L2270.7,1337.4 L2270.6,1357.1 L2272.5,1376.7 L2275.3,1396.4 L2278.3,1416.1 L2275.1,1435.8 L2270.5,1455.4 L2267.7,1475.1 L2266.8,1494.8 L2264.6,1514.4 L2263.8,1534.1 L2263.2,1553.8 L2263.7,1573.4 L2262.6,1593.1 L2261.4,1612.8 L2260.0,1632.5 L2258.5,1652.1 L2257.8,1671.8 L2257.3,1691.5 L2258.5,1711.1 L2258.0,1730.8 L2256.8,1750.5 L2258.1,1770.1 L2256.8,1789.8 L2255.8,1809.5 L2256.0,1829.2 L2255.8,1848.8 L2256.1,1868.5 L2255.6,1888.2 L2254.9,1907.8" stroke="#a2372e" stroke-width="10.2" fill="none" stroke-linejoin="round" stroke-linecap="butt"/>
<path d="M2243.4,176.9 L2250.1,196.5 L2249.7,216.2 L2247.3,235.9 L2254.0,255.5 L2238.2,275.2 L2230.9,294.9 L2233.8,314.6 L2241.6,334.2 L2247.7,353.9 L2247.8,373.6 L2236.8,393.2 L2250.7,412.9 L2249.8,432.6 L2248.1,452.2 L2249.1,471.9 L2252.0,491.6 L2245.5,511.3 L2251.3,530.9 L2246.0,550.6 L2253.7,570.3 L2248.8,589.9 L2253.8,609.6 L2248.8,629.3 L2251.7,648.9 L2247.7,668.6 L2248.5,688.3 L2246.3,708.0 L2251.0,727.6 L2251.5,747.3 L2247.9,767.0 L2249.5,786.6 L2250.0,806.3 L2247.8,826.0 L2249.5,845.6 L2253.0,865.3 L2251.7,885.0 L2249.0,904.7 L2250.0,924.3 L2250.7,944.0 L2252.0,963.7 L2250.6,983.3 L2251.9,1003.0 L2252.5,1022.7 L2253.2,1042.3 L2254.5,1062.0 L2255.4,1081.7 L2259.0,1101.4 L2261.8,1121.0 L2263.3,1140.7 L2264.0,1160.4 L2264.8,1180.0 L2266.2,1199.7 L2264.0,1219.4 L2261.9,1239.1 L2259.8,1258.7 L2259.4,1278.4 L2259.8,1298.1 L2259.7,1317.7 L2262.8,1337.4 L2265.6,1357.1 L2266.5,1376.7 L2267.4,1396.4 L2268.5,1416.1 L2266.7,1435.8 L2263.6,1455.4 L2261.9,1475.1 L2261.5,1494.8 L2261.4,1514.4 L2259.7,1534.1 L2259.5,1553.8 L2257.7,1573.4 L2257.7,1593.1 L2257.1,1612.8 L2256.1,1632.5 L2256.5,1652.1 L2255.4,1671.8 L2254.9,1691.5 L2254.6,1711.1 L2254.5,1730.8 L2255.5,1750.5 L2266.3,1770.1 L2280.8,1789.8 L2278.6,1809.5 L2267.4,1829.2 L2271.9,1848.8 L2276.3,1868.5 L2250.6,1888.2 L2250.6,1907.8" stroke="#af3d33" stroke-width="10.2" fill="none" stroke-linejoin="round" stroke-linecap="butt"/>
<path d="M2259.9,176.9 L2249.8,196.5 L2238.1,216.2 L2239.4,235.9 L2221.9,255.5 L2243.0,275.2 L2223.0,294.9 L2244.1,314.6 L2219.7,334.2 L2248.2,353.9 L2250.4,373.6 L2253.5,393.2 L2248.2,412.9 L2256.8,432.6 L2269.2,452.2 L2252.9,471.9 L2258.9,491.6 L2258.0,511.3 L2253.7,530.9 L2259.9,550.6 L2259.1,570.3 L2258.3,589.9 L2250.2,609.6 L2249.4,629.3 L2248.1,648.9 L2257.0,668.6 L2251.7,688.3 L2250.8,708.0 L2249.0,727.6 L2250.8,747.3 L2249.9,767.0 L2250.9,786.6 L2249.3,806.3 L2249.8,826.0 L2250.8,845.6 L2250.2,865.3 L2250.5,885.0 L2251.3,904.7 L2249.6,924.3 L2250.4,944.0 L2252.5,963.7 L2251.3,983.3 L2252.2,1003.0 L2252.6,1022.7 L2252.9,1042.3 L2253.7,1062.0 L2254.7,1081.7 L2255.6,1101.4 L2257.7,1121.0 L2257.8,1140.7 L2259.7,1160.4 L2259.5,1180.0 L2259.3,1199.7 L2256.1,1219.4 L2256.8,1239.1 L2256.1,1258.7 L2258.2,1278.4 L2260.1,1298.1 L2259.6,1317.7 L2262.0,1337.4 L2261.9,1357.1 L2263.9,1376.7 L2265.4,1396.4 L2268.7,1416.1 L2268.2,1435.8 L2263.8,1455.4 L2263.3,1475.1 L2262.6,1494.8 L2262.7,1514.4 L2261.3,1534.1 L2260.0,1553.8 L2259.7,1573.4 L2258.1,1593.1 L2257.4,1612.8 L2258.1,1632.5 L2255.6,1652.1 L2254.1,1671.8 L2254.4,1691.5 L2253.4,1711.1 L2253.2,1730.8 L2252.4,1750.5 L2252.1,1770.1 L2251.6,1789.8 L2253.3,1809.5 L2253.9,1829.2 L2253.0,1848.8 L2252.0,1868.5 L2252.0,1888.2 L2253.0,1907.8" stroke="#bc4438" stroke-width="10.2" fill="none" stroke-linejoin="round" stroke-linecap="butt"/>
<path d="M2257.7,176.9 L2247.6,196.5 L2255.4,216.2 L2246.9,235.9 L2251.9,255.5 L2258.9,275.2 L2251.4,294.9 L2248.9,314.6 L2266.9,334.2 L2271.9,353.9 L2257.4,373.6 L2247.3,393.2 L2257.8,412.9 L2253.8,432.6 L2259.4,452.2 L2251.4,471.9 L2259.9,491.6 L2276.3,511.3 L2254.6,530.9 L2257.3,550.6 L2246.7,570.3 L2254.3,589.9 L2255.8,609.6 L2256.1,629.3 L2254.8,648.9 L2255.0,668.6 L2255.4,688.3 L2255.3,708.0 L2253.9,727.6 L2255.6,747.3 L2255.3,767.0 L2254.0,786.6 L2253.4,806.3 L2254.9,826.0 L2251.9,845.6 L2254.3,865.3 L2254.2,885.0 L2255.3,904.7 L2254.6,924.3 L2257.1,944.0 L2257.4,963.7 L2258.5,983.3 L2260.9,1003.0 L2261.2,1022.7 L2262.3,1042.3 L2264.9,1062.0 L2266.5,1081.7 L2268.8,1101.4 L2268.5,1121.0 L2270.6,1140.7 L2271.7,1160.4 L2273.0,1180.0 L2274.2,1199.7 L2271.5,1219.4 L2268.9,1239.1 L2266.7,1258.7 L2267.0,1278.4 L2269.5,1298.1 L2273.2,1317.7 L2276.3,1337.4 L2276.7,1357.1 L2275.5,1376.7 L2276.6,1396.4 L2280.6,1416.1 L2277.0,1435.8 L2273.0,1455.4 L2267.3,1475.1 L2264.8,1494.8 L2265.3,1514.4 L2264.4,1534.1 L2264.0,1553.8 L2261.3,1573.4 L2261.7,1593.1 L2260.7,1612.8 L2258.8,1632.5 L2258.3,1652.1 L2257.5,1671.8 L2257.4,1691.5 L2257.8,1711.1 L2258.2,1730.8 L2256.9,1750.5 L2257.4,1770.1 L2257.2,1789.8 L2255.4,1809.5 L2254.4,1829.2 L2255.1,1848.8 L2255.2,1868.5 L2254.7,1888.2 L2254.2,1907.8" stroke="#c94a3d" stroke-width="10.2" fill="none" stroke-linejoin="round" stroke-linecap="butt"/>
<path d="M2244.8,176.9 L2245.6,196.5 L2251.5,216.2 L2242.9,235.9 L2242.1,255.5 L2238.7,275.2 L2265.3,294.9 L2268.9,314.6 L2246.5,334.2 L2223.3,353.9 L2233.2,373.6 L2234.1,393.2 L2248.5,412.9 L2239.3,432.6 L2248.9,452.2 L2258.4,471.9 L2241.4,491.6 L2242.0,511.3 L2249.9,530.9 L2246.8,550.6 L2248.2,570.3 L2243.0,589.9 L2246.8,609.6 L2244.1,629.3 L2246.9,648.9 L2246.6,668.6 L2245.1,688.3 L2245.5,708.0 L2242.4,727.6 L2247.8,747.3 L2246.9,767.0 L2247.7,786.6 L2244.8,806.3 L2247.2,826.0 L2245.4,845.6 L2247.3,865.3 L2247.3,885.0 L2246.9,904.7 L2245.7,924.3 L2246.0,944.0 L2247.5,963.7 L2247.6,983.3 L2247.4,1003.0 L2246.7,1022.7 L2247.6,1042.3 L2247.9,1062.0 L2248.3,1081.7 L2249.7,1101.4 L2251.8,1121.0 L2253.1,1140.7 L2254.8,1160.4 L2255.7,1180.0 L2257.8,1199.7 L2256.3,1219.4 L2255.4,1239.1 L2254.3,1258.7 L2257.3,1278.4 L2258.5,1298.1 L2259.2,1317.7 L2260.5,1337.4 L2261.3,1357.1 L2262.5,1376.7 L2262.5,1396.4 L2263.0,1416.1 L2262.6,1435.8 L2262.1,1455.4 L2260.7,1475.1 L2259.7,1494.8 L2260.1,1514.4 L2259.5,1534.1 L2258.9,1553.8 L2256.6,1573.4 L2258.0,1593.1 L2256.8,1612.8 L2257.9,1632.5 L2255.5,1652.1 L2254.6,1671.8 L2254.6,1691.5 L2254.0,1711.1 L2253.7,1730.8 L2254.0,1750.5 L2255.3,1770.1 L2255.4,1789.8 L2256.1,1809.5 L2259.7,1829.2 L2273.0,1848.8 L2379.6,1868.5 L2494.0,1888.2 L2250.5,1907.8" stroke="#d65043" stroke-width="10.2" fill="none" stroke-linejoin="round" stroke-linecap="butt"/>
<path d="M2252.9,176.9 L2254.1,196.5 L2229.8,216.2 L2252.9,235.9 L2238.5,255.5 L2234.9,275.2 L2247.0,294.9 L2257.5,314.6 L2251.2,334.2 L2254.9,353.9 L2239.6,373.6 L2248.3,393.2 L2246.4,412.9 L2241.6,432.6 L2244.8,452.2 L2242.9,471.9 L2251.8,491.6 L2246.7,511.3 L2236.6,530.9 L2247.6,550.6 L2249.4,570.3 L2247.0,589.9 L2243.7,609.6 L2244.1,629.3 L2243.2,648.9 L2247.1,668.6 L2249.9,688.3 L2244.5,708.0 L2242.2,727.6 L2246.3,747.3 L2251.9,767.0 L2243.3,786.6 L2247.0,806.3 L2243.9,826.0 L2246.6,845.6 L2245.9,865.3 L2248.3,885.0 L2245.7,904.7 L2246.2,924.3 L2247.4,944.0 L2247.2,963.7 L2247.0,983.3 L2247.7,1003.0 L2247.2,1022.7 L2248.2,1042.3 L2248.1,1062.0 L2249.0,1081.7 L2249.0,1101.4 L2251.1,1121.0 L2253.6,1140.7 L2254.7,1160.4 L2255.9,1180.0 L2257.7,1199.7 L2256.3,1219.4 L2256.3,1239.1 L2254.2,1258.7 L2256.4,1278.4 L2257.7,1298.1 L2259.4,1317.7 L2260.7,1337.4 L2261.3,1357.1 L2261.4,1376.7 L2263.1,1396.4 L2263.0,1416.1 L2263.4,1435.8 L2261.1,1455.4 L2260.0,1475.1 L2260.1,1494.8 L2259.4,1514.4 L2259.1,1534.1 L2258.0,1553.8 L2257.7,1573.4 L2256.5,1593.1 L2256.5,1612.8 L2256.1,1632.5 L2254.1,1652.1 L2254.3,1671.8 L2254.6,1691.5 L2254.7,1711.1 L2253.6,1730.8 L2252.8,1750.5 L2266.3,1770.1 L2324.1,1789.8 L2596.2,1809.5 L2455.2,1829.2 L2409.6,1848.8 L2379.6,1868.5 L2349.6,1888.2 L2251.9,1907.8" stroke="#e35748" stroke-width="10.2" fill="none" stroke-linejoin="round" stroke-linecap="butt"/>
<path d="M2256.1,176.9 L2263.6,196.5 L2244.9,216.2 L2247.0,235.9 L2254.8,255.5 L2249.0,275.2 L2244.9,294.9 L2257.1,314.6 L2250.8,334.2 L2251.5,353.9 L2251.3,373.6 L2262.3,393.2 L2249.7,412.9 L2244.1,432.6 L2242.9,452.2 L2247.6,471.9 L2257.2,491.6 L2249.2,511.3 L2249.3,530.9 L2255.6,550.6 L2249.1,570.3 L2249.5,589.9 L2250.7,609.6 L2244.8,629.3 L2249.8,648.9 L2250.9,668.6 L2251.3,688.3 L2249.7,708.0 L2253.0,727.6 L2253.7,747.3 L2247.9,767.0 L2251.4,786.6 L2247.8,806.3 L2250.3,826.0 L2249.0,845.6 L2249.5,865.3 L2250.8,885.0 L2248.5,904.7 L2250.8,924.3 L2251.7,944.0 L2250.9,963.7 L2251.8,983.3 L2252.6,1003.0 L2254.9,1022.7 L2255.1,1042.3 L2255.8,1062.0 L2257.2,1081.7 L2257.1,1101.4 L2260.7,1121.0 L2262.8,1140.7 L2265.2,1160.4 L2265.3,1180.0 L2268.2,1199.7 L2267.3,1219.4 L2263.8,1239.1 L2264.9,1258.7 L2266.6,1278.4 L2267.9,1298.1 L2270.9,1317.7 L2273.8,1337.4 L2276.1,1357.1 L2278.4,1376.7 L2280.1,1396.4 L2285.3,1416.1 L2280.7,1435.8 L2273.7,1455.4 L2268.2,1475.1 L2266.8,1494.8 L2264.8,1514.4 L2262.9,1534.1 L2262.4,1553.8 L2262.0,1573.4 L2261.2,1593.1 L2259.7,1612.8 L2259.1,1632.5 L2259.3,1652.1 L2259.5,1671.8 L2258.4,1691.5 L2257.8,1711.1 L2258.1,1730.8 L2258.2,1750.5 L2258.7,1770.1 L2256.6,1789.8 L2254.9,1809.5 L2255.9,1829.2 L2255.6,1848.8 L2255.5,1868.5 L2256.3,1888.2 L2253.8,1907.8" stroke="#f05d4d" stroke-width="10.2" fill="none" stroke-linejoin="round" stroke-linecap="butt"/>
</g>
<rect x="2138.6" y="216.2" width="1221.8000000000002" height="1652.3" fill="none" stroke="#fff" stroke-width="5.2"/>
<path d="M2126.7999999999997,1789.8 H2138.6 M2126.7999999999997,1593.1 H2138.6 M2126.7999999999997,1396.4 H2138.6 M2126.7999999999997,1199.7 H2138.6 M2126.7999999999997,1003.0 H2138.6 M2126.7999999999997,806.3 H2138.6 M2126.7999999999997,609.6 H2138.6 M2126.7999999999997,412.9 H2138.6 M2126.7999999999997,216.2 H2138.6 M2249.7,1868.5 V1880.3 M2471.8,1868.5 V1880.3 M2694.0,1868.5 V1880.3 M2916.1,1868.5 V1880.3 M3138.3,1868.5 V1880.3 M3360.4,1868.5 V1880.3" stroke="#fff" stroke-width="3.4" fill="none"/>
<rect x="14.4" y="729.0" width="423.79999999999995" height="954.9" rx="7" ry="7" fill="#000" stroke="#a8a8a8" stroke-width="2.7"/>
<rect x="3381.0" y="759.9" width="418.4" height="895.3" rx="7" ry="7" fill="#000" stroke="#a8a8a8" stroke-width="2.7"/>
<rect x="25" y="755.8" width="90" height="10" fill="#0e4a78"/>
<rect x="25" y="814.8" width="90" height="10" fill="#0e4f7e"/>
<rect x="25" y="873.8" width="90" height="10" fill="#0e5385"/>
<rect x="25" y="932.8" width="90" height="10" fill="#0e588b"/>
<rect x="25" y="991.8" width="90" height="10" fill="#0f5d91"/>
<rect x="25" y="1050.8" width="90" height="10" fill="#0f6197"/>
<rect x="25" y="1109.8" width="90" height="10" fill="#0f669e"/>
<rect x="25" y="1168.8" width="90" height="10" fill="#0f6ba4"/>
<rect x="25" y="1227.8" width="90" height="10" fill="#0f6faa"/>
<rect x="25" y="1286.8" width="90" height="10" fill="#0f74b0"/>
<rect x="25" y="1345.8" width="90" height="10" fill="#0f79b7"/>
<rect x="25" y="1404.8" width="90" height="10" fill="#0f7dbd"/>
<rect x="25" y="1463.8" width="90" height="10" fill="#1082c3"/>
<rect x="25" y="1522.8" width="90" height="10" fill="#1087c9"/>
<rect x="25" y="1581.8" width="90" height="10" fill="#108bd0"/>
<rect x="25" y="1640.8" width="90" height="10" fill="#1090d6"/>
<rect x="3391" y="786.0" width="89.8" height="10" fill="#3a0404"/>
<rect x="3391" y="845.0" width="89.8" height="10" fill="#470a09"/>
<rect x="3391" y="904.0" width="89.8" height="10" fill="#54110e"/>
<rect x="3391" y="963.0" width="89.8" height="10" fill="#611714"/>
<rect x="3391" y="1022.0" width="89.8" height="10" fill="#6e1d19"/>
<rect x="3391" y="1081.0" width="89.8" height="10" fill="#7b241e"/>
<rect x="3391" y="1140.0" width="89.8" height="10" fill="#882a23"/>
<rect x="3391" y="1199.0" width="89.8" height="10" fill="#953028"/>
<rect x="3391" y="1258.0" width="89.8" height="10" fill="#a2372e"/>
<rect x="3391" y="1317.0" width="89.8" height="10" fill="#af3d33"/>
<rect x="3391" y="1376.0" width="89.8" height="10" fill="#bc4438"/>
<rect x="3391" y="1435.0" width="89.8" height="10" fill="#c94a3d"/>
<rect x="3391" y="1494.0" width="89.8" height="10" fill="#d65043"/>
<rect x="3391" y="1553.0" width="89.8" height="10" fill="#e35748"/>
<rect x="3391" y="1612.0" width="89.8" height="10" fill="#f05d4d"/>
<path d="M39.8,1980 H76.5 M93.2,1980 H120.2" stroke="#fff" stroke-width="10.4" fill="none"/>
<path d="M39.8,2040 H50.2 M66.4,2040 H76.6 M93.0,2040 H103.2 M119.5,2040 H120.3" stroke="#fff" stroke-width="10.2" fill="none"/>
<rect x="40.3" y="2085.3" width="80.4" height="28" fill="#6a6d72" stroke="#909295" stroke-width="2.2"/>
<path d="M2000,73.1 h28 v10.9 h-28 z M2117.7,73.1 h29.1 v10.9 h-29.1 z" fill="#fff"/>
<path d="M952.9,1981.9 h17.5 v6.8 h-17.5 z M1048,1981.9 h17.5 v6.8 h-17.5 z" fill="#fff"/>
<path d="M2419.0,1981.9 h17.5 v6.8 h-17.5 z M2514.1,1981.9 h17.5 v6.8 h-17.5 z" fill="#fff"/>
<path d="M1052.4,46.3 H1085.0 V53.699999999999996 H1074.6000000000001 V94.39999999999999 H1085.0 V101.8 H1052.4 V94.39999999999999 H1062.8 V53.699999999999996 H1052.4 Z" fill="#fff"/>
<path d="M1096.7,46.3 H1129.3 V53.699999999999996 H1118.9 V94.39999999999999 H1129.3 V101.8 H1096.7 V94.39999999999999 H1107.1 V53.699999999999996 H1096.7 Z" fill="#fff"/>
<path d="M1141.2,46.3 H1173.6 V53.699999999999996 H1163.3000000000002 V94.39999999999999 H1173.6 V101.8 H1141.2 V94.39999999999999 H1151.5 V53.699999999999996 H1141.2 Z" fill="#fff"/>
<path d="M1232.7,46.3 H1265.3 V53.699999999999996 H1254.9 V94.39999999999999 H1265.3 V101.8 H1232.7 V94.39999999999999 H1243.1 V53.699999999999996 H1232.7 Z" fill="#fff"/>
<path d="M1205.6,45.1 H1219.9 L1194.6,112.7 H1180.3 Z" fill="#fff"/>
<g id="logo">
<path d="M3494.0,223.5 V46.3 Q3494.0,18.3 3522.0,18.3 H3802.8 Q3830.8,18.3 3830.8,46.3 V223.5 A168.4000000000001,168.4000000000001 0 0 1 3494.0,223.5 Z" fill="#e2594e"/>
<path d="M3499.6,223.5 V46.9 Q3499.6,23.9 3522.6,23.9 H3802.2000000000003 Q3825.2000000000003,23.9 3825.2000000000003,46.9 V223.5 A162.8000000000001,162.8000000000001 0 0 1 3499.6,223.5 Z" fill="#0f5b90"/>
<circle cx="3662.6" cy="223.5" r="139.2" fill="#c9ccd6"/>
<circle cx="3662.6" cy="223.5" r="124.0" fill="#0c5389"/>
<defs><clipPath id="lgc"><circle cx="3662.6" cy="223.5" r="124.0"/></clipPath></defs>
<g clip-path="url(#lgc)">
<circle cx="2840" cy="819" r="1035" fill="#1773b0"/>
<circle cx="2840" cy="819" r="1021" fill="#0b5187" stroke="#e8f2fb" stroke-width="1.1"/>
<g transform="translate(3580,150) scale(0.15873)">
<g fill="#5fa36a">
<path d="M150,150 L215,170 L280,190 L340,250 L420,330 L500,430 L540,480 L548,560 L525,640 L548,700 L572,745 L545,720 L520,690 L470,690 L430,740 L398,780 L388,840 L412,900 L440,950 L490,975 L545,965 L540,900 L548,865 L565,930 L600,975 L640,1000 L655,1035 L690,1005 L715,1020 L722,1090 L735,1140 L728,1200 L960,1110 L905,1010 L820,885 L790,900 L745,925 L735,960 L715,990 L690,985 L640,1030 L520,1012 L445,1040 L380,1030 L300,975 L250,930 L195,880 L150,860 Z"/>
</g>
<g fill="#0b5187">
<path d="M255,320 L285,330 L300,360 L330,380 L345,365 L372,355 L395,368 L382,395 L360,400 L352,440 L360,470 L345,478 L330,440 L322,405 L295,395 L268,410 L272,375 Z"/>
<path d="M395,400 L425,395 L450,372 L440,410 L418,440 L405,462 L398,430 Z"/>
<path d="M505,455 L522,470 L515,492 L500,480 Z"/>
<path d="M180,880 L215,905 L260,955 L300,990 L285,995 L240,960 L200,920 Z"/>
</g>
</g>
<line x1="3715.6" y1="190.6" x2="3656.5" y2="159.5" stroke="#eaf3fb" stroke-width="1.2"/>
<line x1="3715.6" y1="190.6" x2="3645.0" y2="166.0" stroke="#eaf3fb" stroke-width="1.2"/>
<line x1="3715.6" y1="190.6" x2="3671.3" y2="226.2" stroke="#eaf3fb" stroke-width="1.2"/>
<line x1="3715.6" y1="190.6" x2="3675.5" y2="232.5" stroke="#eaf3fb" stroke-width="1.2"/>
<line x1="3716.5" y1="192.5" x2="3723.0" y2="258.0" stroke="#eaf3fb" stroke-width="1.2"/>
<line x1="3716.5" y1="192.5" x2="3734.0" y2="256.5" stroke="#eaf3fb" stroke-width="1.2"/>
<circle cx="3636.8" cy="144.4" r="24.2" fill="#fbfbfd"/>
<defs><clipPath id="moonc"><circle cx="3636.8" cy="144.4" r="24.2"/></clipPath></defs>
<circle cx="3640.8" cy="141.0" r="24.4" fill="#dde0e7" clip-path="url(#moonc)"/>
<path d="M3617,135 q6,-12 18,-13 q10,2 14,8 q-2,9 -9,10 q-3,8 -10,9 q-8,-1 -9,-7 q-5,-2 -4,-7 z" fill="#b9bdc8"/>
<path d="M3640,146 q8,-4 13,1 q1,8 -6,11 q-8,0 -7,-12 z" fill="#bcc0ca"/>
<circle cx="3736.3" cy="280.3" r="23.3" fill="#c9ccd6"/>
<defs><clipPath id="sunc"><circle cx="3736.3" cy="280.3" r="23.3"/></clipPath></defs>
<circle cx="3742.6" cy="277.6" r="23.8" fill="#fee1a0" clip-path="url(#sunc)"/>
<path d="M3693.6,106.5 L3695.12,114.48 L3703.1,116.0 L3695.12,117.52 L3693.6,125.5 L3692.08,117.52 L3684.1,116.0 L3692.08,114.48 Z" fill="#fde7a8"/>
<path d="M3680.2,121.0 L3681.192,126.208 L3686.3999999999996,127.2 L3681.192,128.192 L3680.2,133.4 L3679.2079999999996,128.192 L3674.0,127.2 L3679.2079999999996,126.208 Z" fill="#fff"/>
<path d="M3703.6,126.50000000000001 L3704.368,130.532 L3708.4,131.3 L3704.368,132.068 L3703.6,136.10000000000002 L3702.832,132.068 L3698.7999999999997,131.3 L3702.832,130.532 Z" fill="#fff"/>
<g transform="translate(3728.4,179.5) rotate(45.7)" fill="#d0d4dd">
<rect x="-26.80" y="2.4" width="2.3" height="17.3"/>
<rect x="-26.80" y="-19.7" width="2.3" height="17.3"/>
<rect x="-23.65" y="2.4" width="2.3" height="17.3"/>
<rect x="-23.65" y="-19.7" width="2.3" height="17.3"/>
<rect x="-20.50" y="2.4" width="2.3" height="17.3"/>
<rect x="-20.50" y="-19.7" width="2.3" height="17.3"/>
<rect x="-17.35" y="2.4" width="2.3" height="17.3"/>
<rect x="-17.35" y="-19.7" width="2.3" height="17.3"/>
<rect x="15.00" y="2.4" width="2.3" height="17.3"/>
<rect x="15.00" y="-19.7" width="2.3" height="17.3"/>
<rect x="18.15" y="2.4" width="2.3" height="17.3"/>
<rect x="18.15" y="-19.7" width="2.3" height="17.3"/>
<rect x="21.30" y="2.4" width="2.3" height="17.3"/>
<rect x="21.30" y="-19.7" width="2.3" height="17.3"/>
<rect x="24.45" y="2.4" width="2.3" height="17.3"/>
<rect x="24.45" y="-19.7" width="2.3" height="17.3"/>
<rect x="-27" y="-0.9" width="54" height="1.8" fill="#e8d9c4"/>
<rect x="-9.9" y="0" width="1.9" height="11.3"/>
<rect x="-7.3" y="13.5" width="14.2" height="1.9"/>
<rect x="-6.6" y="-6.0" width="10.2" height="1.8"/>
<rect x="6.3" y="-0.5" width="1.9" height="11.6"/>
<rect x="-2.6" y="-1.9" width="1.9" height="17"/>
<rect x="-2.6" y="6.3" width="9" height="1.7"/>
<rect x="2.0" y="-6" width="1.7" height="6"/>
</g>
</g>
<g transform="translate(3490,80) scale(0.18634)">
<defs><clipPath id="wzc"><circle cx="926.3" cy="770.2" r="667"/></clipPath></defs>
<path d="M335,372 L250,440 L175,500 L150,560 L140,680 L105,790 L62,850 L75,882 L150,850 L215,790 L250,730 L262,850 L632,850 L632,560 L560,470 L450,400 Z" fill="#cf4a3f"/>
<path d="M250,730 L200,900 L200,1400 L632,1400 L632,700 Z" fill="#cf4a3f" clip-path="url(#wzc)"/>
<path d="M175,500 L205,470 L215,600 L190,720 L150,800 L105,845 L62,850 L105,790 L140,680 L150,560 Z" fill="#9e2f27"/>
<g clip-path="url(#wzc)">
<path d="M300,600 L350,690 L330,800 L340,930 L400,1100 L470,1230 L430,1200 L360,1090 L300,980 L262,850 L250,730 Z" fill="#9e2f27"/>
<path d="M470,780 L500,900 L520,1100 L560,1300 L520,1290 L480,1120 L450,900 Z" fill="#9e2f27"/>
<path d="M560,820 L590,1000 L600,1200 L632,1362 L632,900 Z" fill="#9e2f27"/>
</g>
<path d="M350,420 L430,470 L470,560 L520,600 L600,590 L625,640 L620,700 L560,690 L450,660 L360,640 L320,560 Z" fill="#e3594d"/>
<path d="M330,585 L420,610 L520,640 L605,635 L600,612 L520,615 L420,585 L340,560 Z" fill="#9e2f27"/>
<path d="M345,680 L450,715 L560,740 L600,745 L600,780 L555,778 L445,750 L340,708 Z" fill="#7a3f18"/>
<path d="M512,745 L535,722 L585,722 L608,765 L585,808 L535,808 Z" fill="#b36a2c" stroke="#7a3f18" stroke-width="8"/>
<path d="M628,470 L690,490 L672,585 L625,600 Z" fill="#7a3f18"/>
<path d="M640,520 L680,530 L675,590 L640,600 Z" fill="#e2ad72"/>
<path d="M232,215 L268,520 L330,900 L372,1010 L398,1150" fill="none" stroke="#7a3f18" stroke-width="24" stroke-linejoin="round"/>
<path d="M232,215 L268,520 L330,900 L372,1010 L398,1150" fill="none" stroke="#b36a2c" stroke-width="13" stroke-linejoin="round"/>
<circle cx="228" cy="180" r="57" fill="#f2f3f6"/><circle cx="234" cy="186" r="47" fill="#c6c9d2"/>
<path d="M215,500 L285,478 L312,520 L300,600 L262,622 L222,585 Z" fill="#e2ad72"/>
<path d="M378,374 L392,338 L425,305 L468,280 L520,258 L578,254 L616,280 L630,318 L600,300 L560,292 L525,305 L508,352 L530,395 L585,420 L602,470 L596,555 L548,594 L500,572 L468,505 L438,442 L395,412 Z" fill="#f7f7f8"/>
<path d="M525,305 L560,288 L600,292 L624,322 L620,362 L604,384 L594,420 L560,414 L532,394 L512,352 Z" fill="#e2ad72"/>
<path d="M545,398 L592,410 L590,446 L552,436 Z" fill="#f7f7f8"/>
<path d="M548,340 L608,350 L606,362 L550,354 Z" fill="#5e3317"/>
<path d="M520,300 L560,286 L600,290 L560,300 L530,318 Z" fill="#f3d3a8"/>
</g>
<text x="3528" y="58.2" font-family="'Liberation Serif',serif" font-weight="bold" font-size="40.5" fill="#fff" textLength="265.8" lengthAdjust="spacingAndGlyphs">SAGE III • ISS</text>
<text x="3527.5" y="71.4" font-family="'Liberation Sans',sans-serif" font-size="7.5" fill="#cfdbe8" textLength="174.5" lengthAdjust="spacingAndGlyphs">Stratospheric Aerosol and Gas Experiment III</text>
<text x="3762.8" y="71.6" text-anchor="middle" font-family="'Liberation Sans',sans-serif" font-size="8.4" fill="#cfdbe8">International</text>
<text x="3762.8" y="83.0" text-anchor="middle" font-family="'Liberation Sans',sans-serif" font-size="8.4" fill="#cfdbe8">Space Station</text>
<defs><path id="lgp" d="M3507.93,252.17 A157.3,157.3 0 0 0 3819.52,234.47"/></defs>
<text font-family="'Liberation Sans',sans-serif" font-weight="bold" font-size="15.6" fill="#fff" textLength="454.4" lengthAdjust="spacingAndGlyphs"><textPath href="#lgp" textLength="454.4" lengthAdjust="spacingAndGlyphs">BALL • NASA LANGLEY RESEARCH CENTER • TAS-I • ESA</textPath></text>
</g>
</svg>
<div id="tx">
<div class="t" style="font-size:81.5px;color:#fff;-webkit-text-stroke:1.63px #fff;font-weight:bold;left:802.26px;top:32.53px;transform:scaleX(0.9364);">SAGE</div>
<div class="t" style="font-size:81.5px;color:#fff;-webkit-text-stroke:1.63px #fff;font-weight:bold;left:1272.58px;top:32.53px;transform:scaleX(0.9200);">SS</div>
<div class="t" style="font-size:81.5px;color:#fff;-webkit-text-stroke:1.63px #fff;font-weight:bold;left:1399.61px;top:32.53px;transform:scaleX(1.0303);">756nm</div>
<div class="t" style="font-size:81.5px;color:#fff;-webkit-text-stroke:1.63px #fff;font-weight:bold;left:1689.29px;top:32.53px;transform:scaleX(1.0084);">Aerosol</div>
<div class="t" style="font-size:81.5px;color:#fff;-webkit-text-stroke:1.63px #fff;font-weight:bold;left:2032.70px;top:32.53px;transform:scaleX(0.9933);">to</div>
<div class="t" style="font-size:81.5px;color:#fff;-webkit-text-stroke:1.63px #fff;font-weight:bold;left:2152.12px;top:32.53px;transform:scaleX(1.0439);">Molecular</div>
<div class="t" style="font-size:81.5px;color:#fff;-webkit-text-stroke:1.63px #fff;font-weight:bold;left:2579.56px;top:32.53px;transform:scaleX(1.0360);">Extinction</div>
<div class="t" style="font-size:81.5px;color:#fff;-webkit-text-stroke:1.63px #fff;font-weight:bold;left:3016.69px;top:32.53px;transform:scaleX(1.0525);">Ratio</div>
<div class="t" style="font-size:81.5px;color:#fff;-webkit-text-stroke:1.63px #fff;font-weight:bold;left:1636.69px;top:121.63px;transform:scaleX(1.0549);">22 November 2024</div>
<div class="t" style="font-size:68px;color:#fff;-webkit-text-stroke:1.36px #fff;font-weight:bold;left:1159.41px;top:138.40px;transform:scaleX(0.9903);">Sunrise</div>
<div class="t" style="font-size:68px;color:#fff;-webkit-text-stroke:1.36px #fff;font-weight:bold;left:2636.31px;top:138.40px;transform:scaleX(0.9867);">Sunset</div>
<div class="t" style="font-size:59px;color:#fff;-webkit-text-stroke:1.12px #fff;left:732.60px;top:1952.35px;transform:scaleX(1.0838);">Aerosol</div>
<div class="t" style="font-size:59px;color:#fff;-webkit-text-stroke:1.12px #fff;left:974.27px;top:1952.35px;transform:scaleX(1.1250);">To</div>
<div class="t" style="font-size:59px;color:#fff;-webkit-text-stroke:1.12px #fff;left:1069.16px;top:1952.35px;transform:scaleX(1.1096);">Molecular</div>
<div class="t" style="font-size:59px;color:#fff;-webkit-text-stroke:1.12px #fff;left:1371.89px;top:1952.35px;transform:scaleX(1.1273);">Extinction</div>
<div class="t" style="font-size:59px;color:#fff;-webkit-text-stroke:1.12px #fff;left:1681.27px;top:1952.35px;transform:scaleX(1.1083);">Ratio</div>
<div class="t" style="font-size:59px;color:#fff;-webkit-text-stroke:1.12px #fff;left:508.25px;top:1233.30px;transform:rotate(-90deg) scaleX(1.1785);">Altitude [km]</div>
<div class="t" style="font-size:43px;color:#fff;-webkit-text-stroke:0.82px #fff;left:595.92px;top:1770.17px;transform:scaleX(1.0826);">10</div>
<div class="t" style="font-size:43px;color:#fff;-webkit-text-stroke:0.82px #fff;left:595.92px;top:1573.47px;transform:scaleX(1.0826);">15</div>
<div class="t" style="font-size:43px;color:#fff;-webkit-text-stroke:0.82px #fff;left:595.92px;top:1376.76px;transform:scaleX(1.0826);">20</div>
<div class="t" style="font-size:43px;color:#fff;-webkit-text-stroke:0.82px #fff;left:595.92px;top:1180.06px;transform:scaleX(1.0826);">25</div>
<div class="t" style="font-size:43px;color:#fff;-webkit-text-stroke:0.82px #fff;left:595.92px;top:983.36px;transform:scaleX(1.0826);">30</div>
<div class="t" style="font-size:43px;color:#fff;-webkit-text-stroke:0.82px #fff;left:595.92px;top:786.66px;transform:scaleX(1.0826);">35</div>
<div class="t" style="font-size:43px;color:#fff;-webkit-text-stroke:0.82px #fff;left:595.92px;top:589.95px;transform:scaleX(1.0826);">40</div>
<div class="t" style="font-size:43px;color:#fff;-webkit-text-stroke:0.82px #fff;left:595.92px;top:393.25px;transform:scaleX(1.0826);">45</div>
<div class="t" style="font-size:43px;color:#fff;-webkit-text-stroke:0.82px #fff;left:595.92px;top:196.55px;transform:scaleX(1.0826);">50</div>
<div class="t" style="font-size:43px;color:#fff;-webkit-text-stroke:0.82px #fff;left:770.83px;top:1890.35px;transform:scaleX(1.0870);">0</div>
<div class="t" style="font-size:43px;color:#fff;-webkit-text-stroke:0.82px #fff;left:979.39px;top:1890.35px;transform:scaleX(1.0870);">20</div>
<div class="t" style="font-size:43px;color:#fff;-webkit-text-stroke:0.82px #fff;left:1202.62px;top:1890.35px;transform:scaleX(1.0870);">40</div>
<div class="t" style="font-size:43px;color:#fff;-webkit-text-stroke:0.82px #fff;left:1423.68px;top:1890.35px;transform:scaleX(1.0870);">60</div>
<div class="t" style="font-size:43px;color:#fff;-webkit-text-stroke:0.82px #fff;left:1646.37px;top:1890.35px;transform:scaleX(1.0870);">80</div>
<div class="t" style="font-size:43px;color:#fff;-webkit-text-stroke:0.82px #fff;left:1854.38px;top:1890.35px;transform:scaleX(1.0870);">100</div>
<div class="t" style="font-size:59px;color:#fff;-webkit-text-stroke:1.12px #fff;left:2198.70px;top:1952.35px;transform:scaleX(1.0838);">Aerosol</div>
<div class="t" style="font-size:59px;color:#fff;-webkit-text-stroke:1.12px #fff;left:2440.38px;top:1952.35px;transform:scaleX(1.1250);">To</div>
<div class="t" style="font-size:59px;color:#fff;-webkit-text-stroke:1.12px #fff;left:2535.26px;top:1952.35px;transform:scaleX(1.1096);">Molecular</div>
<div class="t" style="font-size:59px;color:#fff;-webkit-text-stroke:1.12px #fff;left:2837.99px;top:1952.35px;transform:scaleX(1.1273);">Extinction</div>
<div class="t" style="font-size:59px;color:#fff;-webkit-text-stroke:1.12px #fff;left:3147.37px;top:1952.35px;transform:scaleX(1.1083);">Ratio</div>
<div class="t" style="font-size:59px;color:#fff;-webkit-text-stroke:1.12px #fff;left:1974.35px;top:1233.30px;transform:rotate(-90deg) scaleX(1.1785);">Altitude [km]</div>
<div class="t" style="font-size:43px;color:#fff;-webkit-text-stroke:0.82px #fff;left:2062.02px;top:1770.17px;transform:scaleX(1.0826);">10</div>
<div class="t" style="font-size:43px;color:#fff;-webkit-text-stroke:0.82px #fff;left:2062.02px;top:1573.47px;transform:scaleX(1.0826);">15</div>
<div class="t" style="font-size:43px;color:#fff;-webkit-text-stroke:0.82px #fff;left:2062.02px;top:1376.76px;transform:scaleX(1.0826);">20</div>
<div class="t" style="font-size:43px;color:#fff;-webkit-text-stroke:0.82px #fff;left:2062.02px;top:1180.06px;transform:scaleX(1.0826);">25</div>
<div class="t" style="font-size:43px;color:#fff;-webkit-text-stroke:0.82px #fff;left:2062.02px;top:983.36px;transform:scaleX(1.0826);">30</div>
<div class="t" style="font-size:43px;color:#fff;-webkit-text-stroke:0.82px #fff;left:2062.02px;top:786.66px;transform:scaleX(1.0826);">35</div>
<div class="t" style="font-size:43px;color:#fff;-webkit-text-stroke:0.82px #fff;left:2062.02px;top:589.95px;transform:scaleX(1.0826);">40</div>
<div class="t" style="font-size:43px;color:#fff;-webkit-text-stroke:0.82px #fff;left:2062.02px;top:393.25px;transform:scaleX(1.0826);">45</div>
<div class="t" style="font-size:43px;color:#fff;-webkit-text-stroke:0.82px #fff;left:2062.02px;top:196.55px;transform:scaleX(1.0826);">50</div>
<div class="t" style="font-size:43px;color:#fff;-webkit-text-stroke:0.82px #fff;left:2236.93px;top:1890.35px;transform:scaleX(1.0870);">0</div>
<div class="t" style="font-size:43px;color:#fff;-webkit-text-stroke:0.82px #fff;left:2445.49px;top:1890.35px;transform:scaleX(1.0870);">20</div>
<div class="t" style="font-size:43px;color:#fff;-webkit-text-stroke:0.82px #fff;left:2668.72px;top:1890.35px;transform:scaleX(1.0870);">40</div>
<div class="t" style="font-size:43px;color:#fff;-webkit-text-stroke:0.82px #fff;left:2889.78px;top:1890.35px;transform:scaleX(1.0870);">60</div>
<div class="t" style="font-size:43px;color:#fff;-webkit-text-stroke:0.82px #fff;left:3112.47px;top:1890.35px;transform:scaleX(1.0870);">80</div>
<div class="t" style="font-size:43px;color:#fff;-webkit-text-stroke:0.82px #fff;left:3320.48px;top:1890.35px;transform:scaleX(1.0870);">100</div>
<div class="t" style="font-size:41px;color:#fff;-webkit-text-stroke:0.78px #fff;left:143.94px;top:739.85px;transform:scaleX(0.9645);">2024112201SR</div>
<div class="t" style="font-size:41px;color:#fff;-webkit-text-stroke:0.78px #fff;left:143.92px;top:798.85px;transform:scaleX(0.9846);">2024112204SR</div>
<div class="t" style="font-size:41px;color:#fff;-webkit-text-stroke:0.78px #fff;left:143.92px;top:857.85px;transform:scaleX(0.9753);">2024112206SR</div>
<div class="t" style="font-size:41px;color:#fff;-webkit-text-stroke:0.78px #fff;left:143.92px;top:916.85px;transform:scaleX(0.9753);">2024112209SR</div>
<div class="t" style="font-size:41px;color:#fff;-webkit-text-stroke:0.78px #fff;left:143.94px;top:975.85px;transform:scaleX(0.9616);">2024112211SR</div>
<div class="t" style="font-size:41px;color:#fff;-webkit-text-stroke:0.78px #fff;left:143.93px;top:1034.85px;transform:scaleX(0.9713);">2024112214SR</div>
<div class="t" style="font-size:41px;color:#fff;-webkit-text-stroke:0.78px #fff;left:143.94px;top:1093.85px;transform:scaleX(0.9620);">2024112216SR</div>
<div class="t" style="font-size:41px;color:#fff;-webkit-text-stroke:0.78px #fff;left:143.94px;top:1152.85px;transform:scaleX(0.9620);">2024112219SR</div>
<div class="t" style="font-size:41px;color:#fff;-webkit-text-stroke:0.78px #fff;left:143.94px;top:1211.85px;transform:scaleX(0.9588);">2024112221SR</div>
<div class="t" style="font-size:41px;color:#fff;-webkit-text-stroke:0.78px #fff;left:143.92px;top:1270.85px;transform:scaleX(0.9789);">2024112224SR</div>
<div class="t" style="font-size:41px;color:#fff;-webkit-text-stroke:0.78px #fff;left:143.93px;top:1329.85px;transform:scaleX(0.9695);">2024112226SR</div>
<div class="t" style="font-size:41px;color:#fff;-webkit-text-stroke:0.78px #fff;left:143.93px;top:1388.85px;transform:scaleX(0.9688);">2024112230SR</div>
<div class="t" style="font-size:41px;color:#fff;-webkit-text-stroke:0.78px #fff;left:143.94px;top:1447.85px;transform:scaleX(0.9599);">2024112233SR</div>
<div class="t" style="font-size:41px;color:#fff;-webkit-text-stroke:0.78px #fff;left:143.94px;top:1506.85px;transform:scaleX(0.9620);">2024112237SR</div>
<div class="t" style="font-size:41px;color:#fff;-webkit-text-stroke:0.78px #fff;left:143.92px;top:1565.85px;transform:scaleX(0.9846);">2024112240SR</div>
<div class="t" style="font-size:41px;color:#fff;-webkit-text-stroke:0.78px #fff;left:143.91px;top:1624.85px;transform:scaleX(0.9914);">2024112244SR</div>
<div class="t" style="font-size:41px;color:#fff;-webkit-text-stroke:0.78px #fff;left:3508.83px;top:770.05px;transform:scaleX(0.9671);">2024112203SS</div>
<div class="t" style="font-size:41px;color:#fff;-webkit-text-stroke:0.78px #fff;left:3508.83px;top:829.05px;transform:scaleX(0.9715);">2024112205SS</div>
<div class="t" style="font-size:41px;color:#fff;-webkit-text-stroke:0.78px #fff;left:3508.82px;top:888.05px;transform:scaleX(0.9755);">2024112208SS</div>
<div class="t" style="font-size:41px;color:#fff;-webkit-text-stroke:0.78px #fff;left:3508.84px;top:947.05px;transform:scaleX(0.9628);">2024112210SS</div>
<div class="t" style="font-size:41px;color:#fff;-webkit-text-stroke:0.78px #fff;left:3508.85px;top:1006.05px;transform:scaleX(0.9538);">2024112213SS</div>
<div class="t" style="font-size:41px;color:#fff;-webkit-text-stroke:0.78px #fff;left:3508.84px;top:1065.05px;transform:scaleX(0.9581);">2024112215SS</div>
<div class="t" style="font-size:41px;color:#fff;-webkit-text-stroke:0.78px #fff;left:3508.84px;top:1124.05px;transform:scaleX(0.9621);">2024112218SS</div>
<div class="t" style="font-size:41px;color:#fff;-webkit-text-stroke:0.78px #fff;left:3508.83px;top:1183.05px;transform:scaleX(0.9704);">2024112220SS</div>
<div class="t" style="font-size:41px;color:#fff;-webkit-text-stroke:0.78px #fff;left:3508.84px;top:1242.05px;transform:scaleX(0.9614);">2024112223SS</div>
<div class="t" style="font-size:41px;color:#fff;-webkit-text-stroke:0.78px #fff;left:3508.83px;top:1301.05px;transform:scaleX(0.9657);">2024112225SS</div>
<div class="t" style="font-size:41px;color:#fff;-webkit-text-stroke:0.78px #fff;left:3508.83px;top:1360.05px;transform:scaleX(0.9697);">2024112228SS</div>
<div class="t" style="font-size:41px;color:#fff;-webkit-text-stroke:0.78px #fff;left:3508.85px;top:1419.05px;transform:scaleX(0.9538);">2024112231SS</div>
<div class="t" style="font-size:41px;color:#fff;-webkit-text-stroke:0.78px #fff;left:3508.84px;top:1478.05px;transform:scaleX(0.9625);">2024112235SS</div>
<div class="t" style="font-size:41px;color:#fff;-webkit-text-stroke:0.78px #fff;left:3508.83px;top:1537.05px;transform:scaleX(0.9664);">2024112238SS</div>
<div class="t" style="font-size:41px;color:#fff;-webkit-text-stroke:0.78px #fff;left:3508.82px;top:1596.05px;transform:scaleX(0.9773);">2024112242SS</div>
<div class="t" style="font-size:41.8px;color:#fff;-webkit-text-stroke:0.79px #fff;left:151.39px;top:1958.37px;transform:scaleX(1.0375);">Mean Tropopause</div>
<div class="t" style="font-size:41.8px;color:#fff;-webkit-text-stroke:0.79px #fff;left:151.36px;top:2017.97px;transform:scaleX(1.0452);">Median Tropopause</div>
<div class="t" style="font-size:41.8px;color:#fff;-webkit-text-stroke:0.79px #fff;left:154.50px;top:2077.67px;transform:scaleX(1.0268);">Tropopause Range</div>
<div class="t" style="font-size:33.3px;color:#808080;-webkit-text-stroke:0.63px #808080;left:3267.21px;top:2010.69px;transform:scaleX(1.0874);">SAGE III/ISS Mission | NASA LaRC</div>
<div class="t" style="font-size:33.3px;color:#808080;-webkit-text-stroke:0.63px #808080;left:3311.64px;top:2048.10px;transform:scaleX(1.0788);">Preparer: Kevin R. Leavor (AMA)</div>
<div class="t" style="font-size:33.3px;color:#808080;-webkit-text-stroke:0.63px #808080;left:3388.96px;top:2085.10px;transform:scaleX(1.0444);">Generated 2025-07-17 22:25</div>
<div class="t" style="font-size:33.3px;color:#808080;-webkit-text-stroke:0.63px #808080;left:3533.25px;top:2122.70px;transform:scaleX(1.0733);">Data Version: 6.0.0</div>
</div>
</div></body></html>
